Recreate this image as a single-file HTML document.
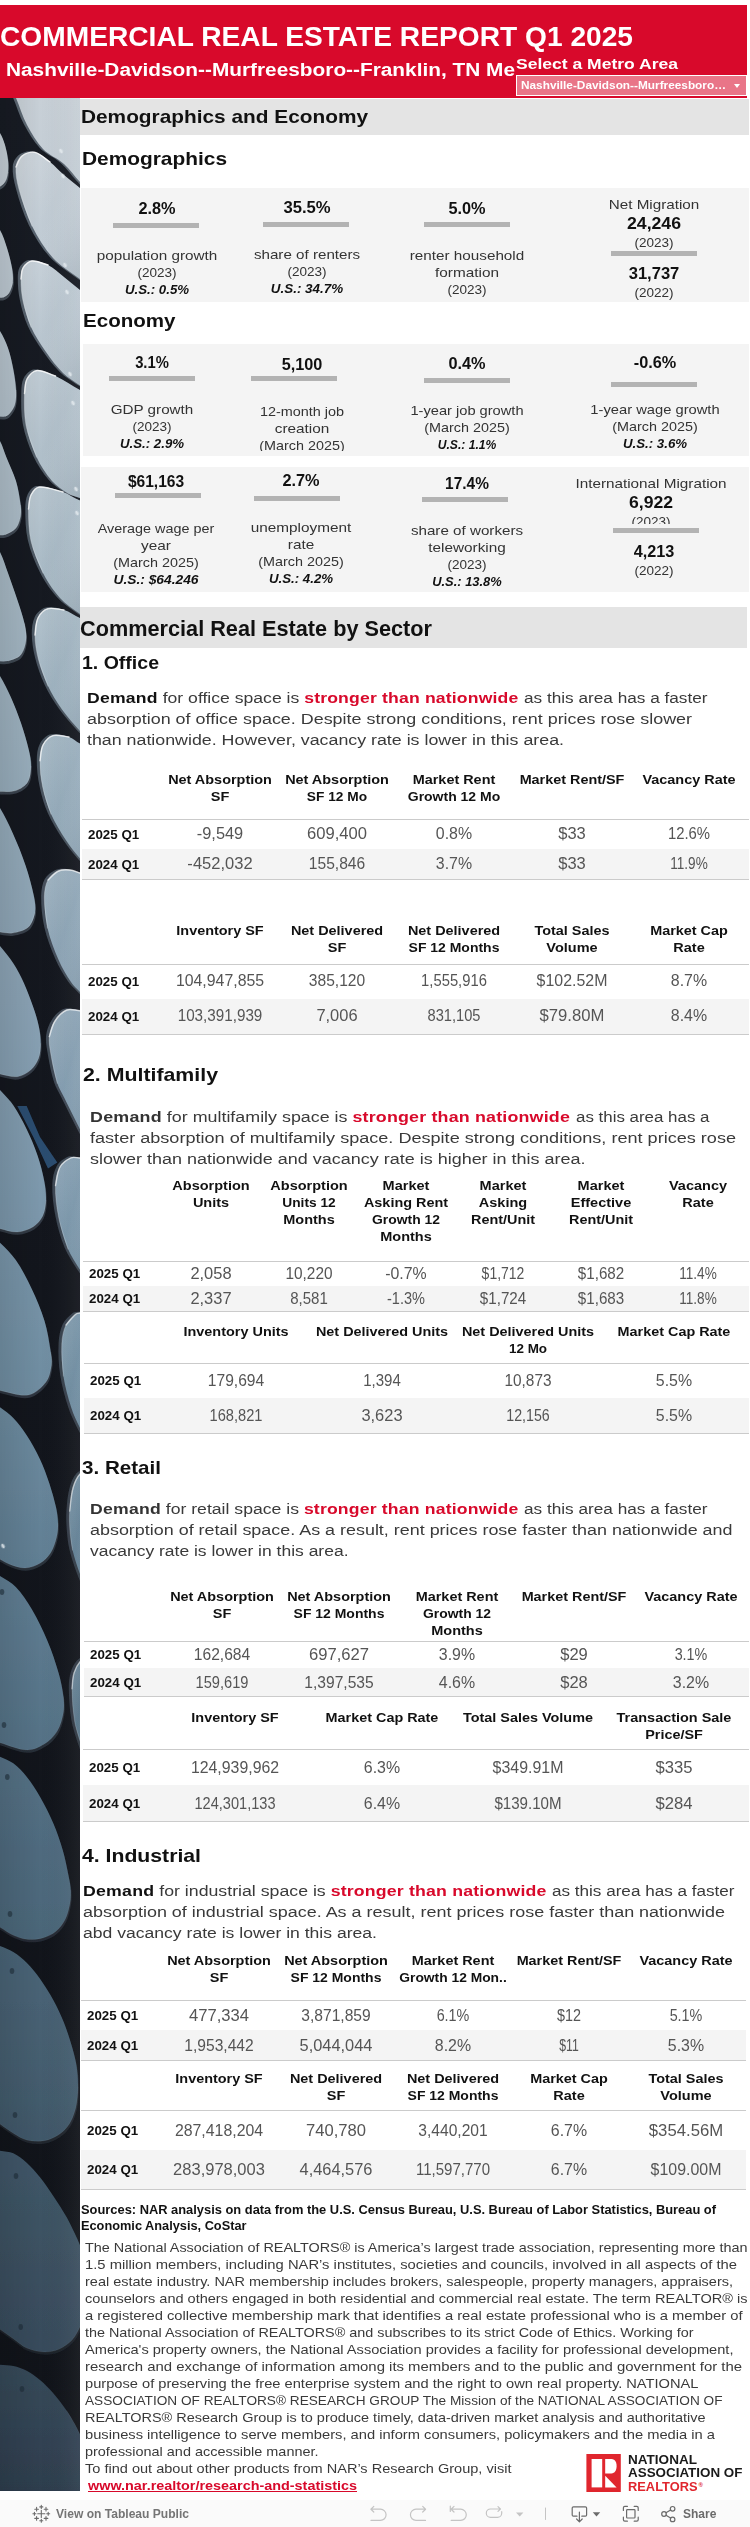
<!DOCTYPE html>
<html><head><meta charset="utf-8"><title>Commercial Real Estate Report</title>
<style>
html,body{margin:0;padding:0;width:750px;height:2527px;overflow:hidden;background:#fff;}
body{font-family:"Liberation Sans", sans-serif;}
.page{position:relative;width:750px;height:2527px;overflow:hidden;background:#fff;font-family:"Liberation Sans", sans-serif;}
b{font-weight:700;}
</style></head><body><div class="page">
<svg style="position:absolute;left:0;top:98px" width="80" height="2393" viewBox="0 98 80 2393">
<defs>
<linearGradient id="gf" gradientUnits="userSpaceOnUse" x1="0" y1="98" x2="0" y2="2491">
<stop offset="0.0000" stop-color="rgb(200, 208, 215)"/>
<stop offset="0.0635" stop-color="rgb(192, 203, 212)"/>
<stop offset="0.1262" stop-color="rgb(180, 194, 204)"/>
<stop offset="0.2098" stop-color="rgb(166, 184, 196)"/>
<stop offset="0.2934" stop-color="rgb(150, 172, 187)"/>
<stop offset="0.3769" stop-color="rgb(138, 162, 180)"/>
<stop offset="0.4605" stop-color="rgb(124, 152, 172)"/>
<stop offset="0.5441" stop-color="rgb(110, 140, 160)"/>
<stop offset="0.6277" stop-color="rgb(94, 124, 145)"/>
<stop offset="0.7112" stop-color="rgb(82, 110, 130)"/>
<stop offset="0.7948" stop-color="rgb(72, 98, 116)"/>
<stop offset="0.8784" stop-color="rgb(62, 84, 101)"/>
<stop offset="0.9411" stop-color="rgb(56, 75, 91)"/>
<stop offset="1.0000" stop-color="rgb(46, 62, 78)"/>
</linearGradient>
<linearGradient id="gb" gradientUnits="userSpaceOnUse" x1="0" y1="98" x2="0" y2="2491"><stop offset="0" stop-color="#181c24"/><stop offset="0.5" stop-color="#13161d"/><stop offset="1" stop-color="#11141a"/></linearGradient>
<linearGradient id="gr" gradientUnits="userSpaceOnUse" x1="0" y1="98" x2="0" y2="2491"><stop offset="0" stop-color="#5d6873"/><stop offset="0.5" stop-color="#3a4450"/><stop offset="1" stop-color="#1d232b"/></linearGradient>
<linearGradient id="gx" x1="0" y1="0" x2="1" y2="0"><stop offset="0" stop-color="#000" stop-opacity="0.10"/><stop offset="0.5" stop-color="#000" stop-opacity="0"/><stop offset="1" stop-color="#fff" stop-opacity="0.05"/></linearGradient>
<linearGradient id="gd" x1="0" y1="0" x2="1" y2="1"><stop offset="0" stop-color="#fff" stop-opacity="0.16"/><stop offset="0.45" stop-color="#fff" stop-opacity="0"/><stop offset="1" stop-color="#001020" stop-opacity="0.14"/></linearGradient>
<filter id="bl" x="-20%" y="-5%" width="140%" height="110%"><feGaussianBlur stdDeviation="0.6"/></filter>
</defs>
<rect x="0" y="98" width="80" height="2393" fill="url(#gb)"/>
<path d="M17.3,1106 L26.7,1106 L40,1137 L57.3,1162.5 L48,1168.5 L33.3,1137 Z" fill="#2f5379" opacity="0.9" filter="url(#bl)"/>
<g filter="url(#bl)">
<path d="M8.0,80.0C10.7,86.0 13.4,92.0 16.0,98.0C19.8,107.0 22.5,116.5 27.0,125.0C31.5,133.5 36.5,142.1 43.0,149.0C48.8,155.1 57.6,158.3 64.0,164.0C70.0,169.3 74.3,176.3 80.0,182.0C83.0,185.0 89.5,193.5 90.0,190.0C94.5,159.5 93.3,116.7 95.0,80.0Z" transform="translate(-3.2,-1)" fill="url(#gr)"/>
<path d="M90.0,196.0C86.7,193.3 83.3,190.7 80.0,188.0C74.7,183.7 69.2,179.5 64.0,175.0C59.2,170.8 55.0,165.9 50.0,162.0C45.3,158.4 40.3,153.5 35.0,152.4C31.0,151.5 25.3,153.5 22.0,156.0C19.0,158.3 16.4,163.0 16.0,167.0C15.4,174.0 17.1,181.9 19.0,189.0C22.4,201.6 26.3,214.4 32.0,226.0C37.6,237.4 44.6,248.7 53.0,258.0C60.6,266.3 70.8,272.3 80.0,279.0C83.1,281.3 86.7,283.0 90.0,285.0Z" transform="translate(-3.2,-1)" fill="url(#gr)"/>
<path d="M90.0,297.0C86.7,294.7 83.2,292.5 80.0,290.0C74.6,285.8 69.4,281.2 64.0,277.0C58.7,272.9 53.8,267.9 48.0,265.0C43.2,262.6 36.9,260.4 32.0,261.0C28.6,261.4 24.9,265.0 23.0,268.0C21.2,271.0 21.0,275.3 21.0,279.0C21.0,286.2 21.5,293.6 23.0,300.7C24.9,309.6 27.3,318.7 31.0,327.0C34.9,335.8 40.5,344.0 46.0,352.0C51.1,359.4 56.6,366.7 63.0,373.0C68.0,377.9 74.2,381.6 80.0,385.5C83.2,387.6 86.7,389.2 90.0,391.0Z" transform="translate(-3.2,-1)" fill="url(#gr)"/>
<path d="M90.0,394.0C86.7,392.7 83.2,391.7 80.0,390.0C71.7,385.7 64.0,379.9 55.5,376.0C49.7,373.4 42.7,369.9 37.0,370.5C33.2,370.9 29.0,375.4 27.0,379.0C24.8,383.1 24.6,388.6 24.5,393.5C24.3,404.0 24.1,414.8 26.0,425.0C28.1,435.9 31.8,446.9 36.5,457.0C40.5,465.6 45.9,473.9 52.0,481.0C56.4,486.1 62.3,490.0 68.0,493.5C71.6,495.7 76.0,496.6 80.0,498.0C83.3,499.1 86.7,500.0 90.0,501.0Z" transform="translate(-3.2,-1)" fill="url(#gr)"/>
<path d="M90.0,503.0C86.7,502.2 83.2,501.9 80.0,500.6C74.2,498.2 69.0,494.0 63.0,492.0C55.5,489.5 46.8,486.3 39.6,487.0C36.1,487.3 32.7,491.7 31.0,495.0C29.0,499.0 28.5,504.3 28.5,509.0C28.5,519.6 28.7,530.7 31.0,541.0C33.5,552.0 37.9,562.9 43.0,573.0C47.5,581.9 53.3,590.6 60.0,598.0C65.7,604.3 73.1,609.0 80.0,614.0C83.1,616.3 86.7,618.0 90.0,620.0Z" transform="translate(-3.2,-1)" fill="url(#gr)"/>
<path d="M90.0,621.0C86.7,620.0 83.2,619.4 80.0,618.0C74.5,615.7 69.6,611.6 64.0,610.0C59.0,608.5 52.7,607.3 48.0,608.7C44.0,609.9 39.9,614.1 38.0,618.0C35.6,622.9 34.9,629.3 35.0,635.0C35.1,643.0 36.4,651.2 38.4,659.0C40.7,668.2 44.0,677.4 48.0,686.0C51.8,694.2 56.7,702.1 62.0,709.5C67.4,717.1 73.8,724.0 80.0,731.0C83.1,734.5 86.7,737.7 90.0,741.0Z" transform="translate(-3.2,-1)" fill="url(#gr)"/>
<path d="M90.0,748.0C86.7,746.5 83.2,745.3 80.0,743.6C76.2,741.6 73.0,738.2 69.0,737.0C64.0,735.5 57.7,734.2 53.0,735.6C49.0,736.8 45.0,741.1 43.0,745.0C40.7,749.5 40.0,755.4 40.0,760.7C39.9,769.4 40.9,778.4 42.7,787.0C44.6,796.2 47.2,805.4 51.0,814.0C55.2,823.4 60.8,832.3 66.5,841.0C70.5,847.2 75.3,852.9 80.0,858.5C83.1,862.2 86.7,865.5 90.0,869.0Z" transform="translate(-3.2,-1)" fill="url(#gr)"/>
<path d="M90.0,876.0C86.7,875.0 83.3,874.0 80.0,873.0C76.7,872.0 73.4,870.3 70.0,870.0C66.3,869.7 61.9,869.5 58.6,871.0C54.6,872.8 50.1,876.2 48.0,880.0C45.4,884.7 44.5,891.1 44.4,896.7C44.3,907.1 45.2,917.8 47.5,928.0C50.0,938.9 54.1,949.7 58.6,960.0C61.9,967.7 66.3,975.0 71.0,982.0C73.5,985.7 76.9,988.7 80.0,992.0C83.2,995.4 86.7,998.7 90.0,1002.0Z" transform="translate(-3.2,-1)" fill="url(#gr)"/>
<path d="M90.0,1013.0C86.7,1012.2 83.4,1011.1 80.0,1010.7C75.6,1010.1 70.5,1008.4 66.7,1010.0C62.1,1011.9 57.8,1016.6 55.0,1021.0C52.0,1025.5 49.9,1031.3 49.3,1036.7C48.6,1043.2 50.2,1050.1 51.3,1056.7C52.8,1065.6 54.6,1074.7 57.3,1083.3C58.8,1088.2 61.7,1092.7 64.0,1097.3C67.5,1104.5 71.1,1111.6 74.7,1118.7C76.5,1122.2 78.2,1125.8 80.0,1129.3C83.3,1135.6 86.7,1141.8 90.0,1148.0Z" transform="translate(-3.2,-1)" fill="url(#gr)"/>
<path d="M90.0,1159.0C86.7,1158.7 83.3,1158.2 80.0,1158.0C77.0,1157.8 73.6,1156.6 71.0,1157.8C66.9,1159.6 62.2,1163.0 60.0,1167.0C57.1,1172.3 55.7,1179.2 55.5,1185.5C55.2,1195.9 56.6,1206.7 58.6,1217.0C60.7,1227.9 63.8,1238.8 68.0,1249.0C71.0,1256.3 75.8,1263.0 80.0,1269.7C83.1,1274.6 86.7,1279.2 90.0,1284.0Z" transform="translate(-3.2,-1)" fill="url(#gr)"/>
<path d="M90.0,1312.0C86.7,1312.3 83.3,1312.5 80.0,1313.0C78.6,1313.2 77.0,1313.1 76.0,1314.0C72.3,1317.1 68.1,1320.7 66.0,1325.0C63.3,1330.7 62.1,1337.6 61.8,1344.0C61.3,1354.6 61.8,1365.5 63.4,1376.0C65.0,1386.8 68.0,1397.4 71.3,1407.8C73.5,1414.8 76.8,1421.4 80.0,1428.0C83.0,1434.2 86.7,1440.0 90.0,1446.0Z" transform="translate(-3.2,-1)" fill="url(#gr)"/>
<path d="M90.0,1470.0C86.7,1471.3 82.3,1471.6 80.0,1474.0C76.6,1477.6 74.4,1483.0 73.0,1488.0C70.9,1495.4 70.2,1503.3 69.7,1511.0C69.2,1517.6 69.5,1524.4 70.0,1531.0C70.5,1537.4 71.1,1543.8 72.5,1550.0C74.4,1558.1 77.1,1566.1 80.0,1574.0C83.0,1582.1 86.7,1590.0 90.0,1598.0Z" transform="translate(-3.2,-1)" fill="url(#gr)"/>
<path d="M90.0,1655.0C86.7,1657.2 82.6,1658.8 80.0,1661.7C77.3,1664.8 75.2,1669.0 74.0,1673.0C72.5,1678.0 71.9,1683.4 72.0,1688.7C72.1,1699.3 72.9,1710.0 74.5,1720.5C75.6,1727.5 77.9,1734.3 80.0,1741.0C83.1,1750.8 86.7,1760.3 90.0,1770.0Z" transform="translate(-3.2,-1)" fill="url(#gr)"/>
<path d="M-8.0,124.0C-5.3,127.0 -2.1,129.6 0.0,133.0C2.2,136.6 3.8,140.9 5.0,145.0C6.4,149.9 7.4,155.0 8.0,160.0C8.4,164.0 8.5,168.1 8.0,172.0C7.6,175.1 7.0,178.4 5.5,181.0C4.3,183.2 2.2,185.4 0.0,186.5C-1.7,187.4 -4.0,186.8 -6.0,187.0Z" transform="translate(0.8,2.8)" fill="url(#gr)" opacity="0.75"/>
<path d="M-8.0,222.0C-5.3,224.7 -1.8,226.8 0.0,230.0C3.2,235.5 5.1,241.9 7.0,248.0C9.1,254.5 10.8,261.3 12.0,268.0C12.8,272.6 13.3,277.4 12.8,282.0C12.3,285.8 11.0,289.9 9.0,293.0C7.7,295.0 5.3,296.9 3.0,297.5C0.3,298.2 -3.0,297.2 -6.0,297.0Z" transform="translate(0.8,2.8)" fill="url(#gr)" opacity="0.75"/>
<path d="M-8.0,322.0C-5.3,325.0 -2.1,327.6 0.0,331.0C3.3,336.3 5.9,342.1 8.0,348.0C10.3,354.5 11.7,361.3 13.0,368.0C14.4,375.3 15.6,382.6 16.0,390.0C16.3,394.6 16.2,399.6 15.0,404.0C14.2,407.2 12.1,410.4 10.0,413.0C8.8,414.6 6.9,416.1 5.0,416.5C1.6,417.1 -2.3,416.2 -6.0,416.0Z" transform="translate(0.8,2.8)" fill="url(#gr)" opacity="0.75"/>
<path d="M-8.0,431.0C-5.3,434.3 -2.0,437.3 0.0,441.0C2.7,446.0 4.2,451.7 6.3,457.0C9.5,465.0 13.5,472.8 16.0,481.0C18.3,488.8 19.5,497.0 20.6,505.0C21.1,508.6 21.3,512.5 20.6,516.0C19.8,520.1 18.6,524.9 16.0,528.0C13.4,531.1 9.0,533.5 5.0,534.8C1.6,535.9 -2.3,534.9 -6.0,535.0Z" transform="translate(0.8,2.8)" fill="url(#gr)" opacity="0.75"/>
<path d="M-8.0,541.0C-5.3,544.7 -2.0,548.0 0.0,552.0C3.3,558.6 5.4,566.0 8.0,573.0C11.2,582.0 14.4,590.9 17.4,600.0C19.9,607.8 22.8,615.6 24.5,623.6C25.6,628.9 26.7,634.7 26.0,640.0C25.4,645.1 23.8,651.3 20.6,655.0C17.8,658.3 12.4,660.0 8.0,661.0C3.6,662.0 -1.3,661.0 -6.0,661.0Z" transform="translate(0.8,2.8)" fill="url(#gr)" opacity="0.75"/>
<path d="M-8.0,666.0C-5.3,669.3 -2.2,672.4 0.0,676.0C4.0,682.6 7.5,689.6 10.7,696.7C14.5,705.3 18.0,714.1 21.0,723.0C24.0,731.9 26.7,740.9 28.8,750.0C30.0,755.2 31.2,760.7 31.0,766.0C30.8,771.4 30.4,777.7 27.7,782.0C25.4,785.8 20.4,789.0 16.0,790.5C11.1,792.2 5.3,791.7 0.0,791.6C-2.7,791.5 -5.3,790.5 -8.0,790.0Z" transform="translate(0.8,2.8)" fill="url(#gr)" opacity="0.75"/>
<path d="M-8.0,799.0C-5.3,802.0 -2.1,804.6 0.0,808.0C4.8,815.9 8.9,824.5 12.7,833.0C17.4,843.5 21.8,854.1 25.4,865.0C28.9,875.4 31.8,886.0 34.0,896.7C35.0,901.8 35.9,907.5 35.0,912.5C34.1,917.6 32.1,923.7 28.5,927.0C24.7,930.5 18.1,932.0 12.7,933.0C8.6,933.7 4.2,932.6 0.0,932.0C-2.7,931.6 -5.3,930.7 -8.0,930.0Z" transform="translate(0.8,2.8)" fill="url(#gr)" opacity="0.75"/>
<path d="M-8.0,938.0C-5.3,940.7 -2.4,943.1 0.0,946.0C4.7,951.6 9.4,957.2 13.3,963.3C17.4,969.6 20.9,976.4 24.0,983.3C27.5,991.1 30.5,999.2 33.3,1007.3C35.4,1013.4 37.4,1019.7 38.7,1026.0C39.9,1031.7 40.7,1037.5 40.7,1043.3C40.7,1048.2 40.4,1053.5 38.7,1058.0C37.1,1062.4 34.2,1066.9 30.7,1070.0C27.1,1073.2 22.0,1076.1 17.3,1076.7C11.8,1077.4 5.7,1075.3 0.0,1074.0C-2.8,1073.4 -5.3,1072.0 -8.0,1071.0Z" transform="translate(0.8,2.8)" fill="url(#gr)" opacity="0.75"/>
<path d="M-8.0,1083.0C-5.3,1085.3 -2.4,1087.4 0.0,1090.0C4.7,1094.9 9.5,1099.7 13.3,1105.3C18.4,1112.8 22.7,1121.1 26.7,1129.3C30.7,1137.5 34.3,1146.0 37.3,1154.7C40.1,1162.9 42.4,1171.5 44.0,1180.0C45.3,1186.6 46.2,1193.4 46.0,1200.0C45.8,1205.4 45.0,1211.2 42.7,1216.0C40.7,1220.1 37.2,1224.3 33.3,1226.7C28.7,1229.6 22.7,1231.7 17.3,1232.0C11.6,1232.3 5.7,1230.1 0.0,1228.7C-2.7,1228.1 -5.3,1226.9 -8.0,1226.0Z" transform="translate(0.8,2.8)" fill="url(#gr)" opacity="0.75"/>
<path d="M-8.0,1237.0C-5.3,1238.9 -2.3,1240.4 0.0,1242.7C5.6,1248.1 11.4,1253.6 15.8,1260.0C22.0,1268.9 27.0,1278.8 31.7,1288.7C36.6,1299.0 41.1,1309.6 44.4,1320.5C47.5,1330.7 49.0,1341.4 50.7,1352.0C51.4,1356.3 52.2,1360.8 51.5,1365.0C50.6,1370.8 49.5,1377.5 46.0,1382.0C41.8,1387.5 35.1,1393.8 28.5,1395.0C19.8,1396.6 9.3,1392.5 0.0,1390.5C-2.8,1389.9 -5.3,1388.2 -8.0,1387.0Z" transform="translate(0.8,2.8)" fill="url(#gr)" opacity="0.75"/>
<path d="M-8.0,1402.0C-5.3,1403.8 -2.6,1405.4 0.0,1407.3C4.5,1410.7 9.4,1413.9 13.3,1418.0C18.3,1423.2 22.8,1429.2 26.7,1435.3C31.7,1443.0 36.1,1451.0 40.0,1459.3C43.6,1467.0 46.6,1475.2 49.3,1483.3C51.9,1491.2 54.2,1499.2 56.0,1507.3C57.1,1512.5 57.9,1518.0 58.0,1523.3C58.1,1527.8 57.8,1532.4 56.7,1536.7C55.3,1542.2 53.7,1548.0 50.7,1552.7C48.1,1556.9 44.2,1560.8 40.0,1563.3C35.7,1565.9 30.3,1567.8 25.3,1568.0C20.5,1568.2 15.4,1566.3 10.7,1564.7C6.9,1563.4 3.5,1561.1 0.0,1559.3C-2.7,1557.9 -5.3,1556.4 -8.0,1555.0Z" transform="translate(0.8,2.8)" fill="url(#gr)" opacity="0.75"/>
<path d="M-8.0,1572.0C-5.3,1573.3 -2.5,1574.4 0.0,1576.0C5.4,1579.4 11.4,1582.4 15.8,1587.0C22.0,1593.4 27.1,1601.2 31.7,1609.0C37.7,1619.2 42.9,1630.1 47.5,1641.0C51.9,1651.4 55.5,1662.2 58.6,1673.0C60.8,1680.7 62.4,1688.7 63.4,1696.7C64.0,1701.9 64.3,1707.4 63.4,1712.5C62.2,1719.0 60.4,1726.0 57.0,1731.6C54.0,1736.5 49.3,1741.0 44.4,1744.0C39.3,1747.1 32.9,1750.2 27.0,1750.0C18.1,1749.7 8.9,1745.5 0.0,1742.7C-2.8,1741.8 -5.3,1740.2 -8.0,1739.0Z" transform="translate(0.8,2.8)" fill="url(#gr)" opacity="0.75"/>
<path d="M-8.0,1753.0C-5.3,1754.2 -2.6,1755.4 0.0,1756.7C4.5,1758.9 9.4,1760.4 13.3,1763.3C18.3,1767.0 22.8,1771.8 26.7,1776.7C31.7,1782.9 36.0,1789.8 40.0,1796.7C44.9,1805.3 49.4,1814.2 53.3,1823.3C57.0,1832.0 60.1,1840.9 62.7,1850.0C65.2,1858.7 66.9,1867.8 68.7,1876.7C69.6,1881.1 70.5,1885.5 70.7,1890.0C70.9,1894.4 70.8,1899.0 70.0,1903.3C69.0,1908.7 67.7,1914.4 65.3,1919.3C63.1,1923.7 59.8,1928.2 56.0,1931.3C52.3,1934.4 47.4,1936.7 42.7,1938.0C37.6,1939.4 31.9,1939.8 26.7,1939.3C22.1,1938.9 17.5,1937.2 13.3,1935.3C8.6,1933.2 4.4,1930.0 0.0,1927.3C-2.7,1925.6 -5.3,1923.8 -8.0,1922.0Z" transform="translate(0.8,2.8)" fill="url(#gr)" opacity="0.75"/>
<path d="M-8.0,1943.0C-5.3,1944.0 -2.6,1944.9 0.0,1946.0C4.5,1947.9 9.2,1949.4 13.3,1952.0C18.1,1955.0 22.7,1958.7 26.7,1962.7C31.6,1967.6 36.0,1973.1 40.0,1978.7C44.8,1985.5 49.3,1992.7 53.3,2000.0C57.3,2007.3 60.9,2014.9 64.0,2022.7C67.1,2030.5 69.7,2038.6 72.0,2046.7C73.9,2053.3 75.7,2060.0 76.7,2066.7C77.7,2073.3 78.1,2080.0 78.0,2086.7C77.9,2093.4 77.5,2100.2 76.0,2106.7C74.6,2112.7 72.5,2118.8 69.3,2124.0C66.7,2128.2 62.8,2132.0 58.7,2134.7C54.4,2137.6 49.1,2139.9 44.0,2140.7C38.4,2141.6 32.2,2141.3 26.7,2140.0C22.0,2138.9 17.6,2135.9 13.3,2133.3C8.7,2130.5 4.4,2127.2 0.0,2124.0C-2.7,2122.1 -5.3,2120.0 -8.0,2118.0Z" transform="translate(0.8,2.8)" fill="url(#gr)" opacity="0.75"/>
<path d="M-8.0,2149.0C-5.3,2149.6 -2.7,2150.2 0.0,2150.7C4.4,2151.6 9.3,2151.5 13.3,2153.3C18.2,2155.5 22.7,2159.1 26.7,2162.7C31.6,2167.1 35.9,2172.2 40.0,2177.3C44.8,2183.3 49.1,2189.6 53.3,2196.0C58.0,2203.0 62.5,2210.0 66.7,2217.3C69.7,2222.5 72.1,2227.9 74.7,2233.3C76.6,2237.2 78.5,2241.2 80.0,2245.3C82.3,2251.8 84.8,2258.3 86.0,2265.0C87.5,2273.2 88.0,2281.7 88.0,2290.0C88.0,2296.7 87.4,2303.5 86.0,2310.0C84.7,2315.7 82.5,2321.4 80.0,2326.7C77.8,2331.4 75.5,2336.3 72.0,2340.0C68.4,2343.9 63.6,2347.2 58.7,2349.3C54.2,2351.2 48.9,2352.2 44.0,2352.0C38.2,2351.8 32.0,2350.3 26.7,2348.0C21.8,2345.9 17.8,2341.8 13.3,2338.7C8.9,2335.6 4.4,2332.5 0.0,2329.3C-2.7,2327.3 -5.3,2325.1 -8.0,2323.0Z" transform="translate(0.8,2.8)" fill="url(#gr)" opacity="0.75"/>
<path d="M-8.0,2364.0C-5.3,2364.2 -2.7,2364.4 0.0,2364.7C4.4,2365.1 9.0,2365.0 13.3,2366.0C17.9,2367.0 22.5,2368.5 26.7,2370.7C31.4,2373.2 35.9,2376.5 40.0,2380.0C44.8,2384.0 49.2,2388.6 53.3,2393.3C58.1,2398.8 62.5,2404.7 66.7,2410.7C69.7,2414.9 72.2,2419.5 74.7,2424.0C76.6,2427.5 78.4,2431.1 80.0,2434.7C83.5,2442.4 88.4,2449.8 90.0,2458.0C93.4,2474.9 106.0,2504.2 95.0,2510.0C73.3,2521.5 26.3,2510.0 -8.0,2510.0Z" transform="translate(0.8,2.8)" fill="url(#gr)" opacity="0.75"/>
<path d="M8.0,80.0C10.7,86.0 13.4,92.0 16.0,98.0C19.8,107.0 22.5,116.5 27.0,125.0C31.5,133.5 36.5,142.1 43.0,149.0C48.8,155.1 57.6,158.3 64.0,164.0C70.0,169.3 74.3,176.3 80.0,182.0C83.0,185.0 89.5,193.5 90.0,190.0C94.5,159.5 93.3,116.7 95.0,80.0Z" fill="url(#gf)"/>
<path d="M90.0,196.0C86.7,193.3 83.3,190.7 80.0,188.0C74.7,183.7 69.2,179.5 64.0,175.0C59.2,170.8 55.0,165.9 50.0,162.0C45.3,158.4 40.3,153.5 35.0,152.4C31.0,151.5 25.3,153.5 22.0,156.0C19.0,158.3 16.4,163.0 16.0,167.0C15.4,174.0 17.1,181.9 19.0,189.0C22.4,201.6 26.3,214.4 32.0,226.0C37.6,237.4 44.6,248.7 53.0,258.0C60.6,266.3 70.8,272.3 80.0,279.0C83.1,281.3 86.7,283.0 90.0,285.0Z" fill="url(#gf)"/>
<path d="M90.0,297.0C86.7,294.7 83.2,292.5 80.0,290.0C74.6,285.8 69.4,281.2 64.0,277.0C58.7,272.9 53.8,267.9 48.0,265.0C43.2,262.6 36.9,260.4 32.0,261.0C28.6,261.4 24.9,265.0 23.0,268.0C21.2,271.0 21.0,275.3 21.0,279.0C21.0,286.2 21.5,293.6 23.0,300.7C24.9,309.6 27.3,318.7 31.0,327.0C34.9,335.8 40.5,344.0 46.0,352.0C51.1,359.4 56.6,366.7 63.0,373.0C68.0,377.9 74.2,381.6 80.0,385.5C83.2,387.6 86.7,389.2 90.0,391.0Z" fill="url(#gf)"/>
<path d="M90.0,394.0C86.7,392.7 83.2,391.7 80.0,390.0C71.7,385.7 64.0,379.9 55.5,376.0C49.7,373.4 42.7,369.9 37.0,370.5C33.2,370.9 29.0,375.4 27.0,379.0C24.8,383.1 24.6,388.6 24.5,393.5C24.3,404.0 24.1,414.8 26.0,425.0C28.1,435.9 31.8,446.9 36.5,457.0C40.5,465.6 45.9,473.9 52.0,481.0C56.4,486.1 62.3,490.0 68.0,493.5C71.6,495.7 76.0,496.6 80.0,498.0C83.3,499.1 86.7,500.0 90.0,501.0Z" fill="url(#gf)"/>
<path d="M90.0,503.0C86.7,502.2 83.2,501.9 80.0,500.6C74.2,498.2 69.0,494.0 63.0,492.0C55.5,489.5 46.8,486.3 39.6,487.0C36.1,487.3 32.7,491.7 31.0,495.0C29.0,499.0 28.5,504.3 28.5,509.0C28.5,519.6 28.7,530.7 31.0,541.0C33.5,552.0 37.9,562.9 43.0,573.0C47.5,581.9 53.3,590.6 60.0,598.0C65.7,604.3 73.1,609.0 80.0,614.0C83.1,616.3 86.7,618.0 90.0,620.0Z" fill="url(#gf)"/>
<path d="M90.0,621.0C86.7,620.0 83.2,619.4 80.0,618.0C74.5,615.7 69.6,611.6 64.0,610.0C59.0,608.5 52.7,607.3 48.0,608.7C44.0,609.9 39.9,614.1 38.0,618.0C35.6,622.9 34.9,629.3 35.0,635.0C35.1,643.0 36.4,651.2 38.4,659.0C40.7,668.2 44.0,677.4 48.0,686.0C51.8,694.2 56.7,702.1 62.0,709.5C67.4,717.1 73.8,724.0 80.0,731.0C83.1,734.5 86.7,737.7 90.0,741.0Z" fill="url(#gf)"/>
<path d="M90.0,748.0C86.7,746.5 83.2,745.3 80.0,743.6C76.2,741.6 73.0,738.2 69.0,737.0C64.0,735.5 57.7,734.2 53.0,735.6C49.0,736.8 45.0,741.1 43.0,745.0C40.7,749.5 40.0,755.4 40.0,760.7C39.9,769.4 40.9,778.4 42.7,787.0C44.6,796.2 47.2,805.4 51.0,814.0C55.2,823.4 60.8,832.3 66.5,841.0C70.5,847.2 75.3,852.9 80.0,858.5C83.1,862.2 86.7,865.5 90.0,869.0Z" fill="url(#gf)"/>
<path d="M90.0,876.0C86.7,875.0 83.3,874.0 80.0,873.0C76.7,872.0 73.4,870.3 70.0,870.0C66.3,869.7 61.9,869.5 58.6,871.0C54.6,872.8 50.1,876.2 48.0,880.0C45.4,884.7 44.5,891.1 44.4,896.7C44.3,907.1 45.2,917.8 47.5,928.0C50.0,938.9 54.1,949.7 58.6,960.0C61.9,967.7 66.3,975.0 71.0,982.0C73.5,985.7 76.9,988.7 80.0,992.0C83.2,995.4 86.7,998.7 90.0,1002.0Z" fill="url(#gf)"/>
<path d="M90.0,1013.0C86.7,1012.2 83.4,1011.1 80.0,1010.7C75.6,1010.1 70.5,1008.4 66.7,1010.0C62.1,1011.9 57.8,1016.6 55.0,1021.0C52.0,1025.5 49.9,1031.3 49.3,1036.7C48.6,1043.2 50.2,1050.1 51.3,1056.7C52.8,1065.6 54.6,1074.7 57.3,1083.3C58.8,1088.2 61.7,1092.7 64.0,1097.3C67.5,1104.5 71.1,1111.6 74.7,1118.7C76.5,1122.2 78.2,1125.8 80.0,1129.3C83.3,1135.6 86.7,1141.8 90.0,1148.0Z" fill="url(#gf)"/>
<path d="M90.0,1159.0C86.7,1158.7 83.3,1158.2 80.0,1158.0C77.0,1157.8 73.6,1156.6 71.0,1157.8C66.9,1159.6 62.2,1163.0 60.0,1167.0C57.1,1172.3 55.7,1179.2 55.5,1185.5C55.2,1195.9 56.6,1206.7 58.6,1217.0C60.7,1227.9 63.8,1238.8 68.0,1249.0C71.0,1256.3 75.8,1263.0 80.0,1269.7C83.1,1274.6 86.7,1279.2 90.0,1284.0Z" fill="url(#gf)"/>
<path d="M90.0,1312.0C86.7,1312.3 83.3,1312.5 80.0,1313.0C78.6,1313.2 77.0,1313.1 76.0,1314.0C72.3,1317.1 68.1,1320.7 66.0,1325.0C63.3,1330.7 62.1,1337.6 61.8,1344.0C61.3,1354.6 61.8,1365.5 63.4,1376.0C65.0,1386.8 68.0,1397.4 71.3,1407.8C73.5,1414.8 76.8,1421.4 80.0,1428.0C83.0,1434.2 86.7,1440.0 90.0,1446.0Z" fill="url(#gf)"/>
<path d="M90.0,1470.0C86.7,1471.3 82.3,1471.6 80.0,1474.0C76.6,1477.6 74.4,1483.0 73.0,1488.0C70.9,1495.4 70.2,1503.3 69.7,1511.0C69.2,1517.6 69.5,1524.4 70.0,1531.0C70.5,1537.4 71.1,1543.8 72.5,1550.0C74.4,1558.1 77.1,1566.1 80.0,1574.0C83.0,1582.1 86.7,1590.0 90.0,1598.0Z" fill="url(#gf)"/>
<path d="M90.0,1655.0C86.7,1657.2 82.6,1658.8 80.0,1661.7C77.3,1664.8 75.2,1669.0 74.0,1673.0C72.5,1678.0 71.9,1683.4 72.0,1688.7C72.1,1699.3 72.9,1710.0 74.5,1720.5C75.6,1727.5 77.9,1734.3 80.0,1741.0C83.1,1750.8 86.7,1760.3 90.0,1770.0Z" fill="url(#gf)"/>
<path d="M-8.0,124.0C-5.3,127.0 -2.1,129.6 0.0,133.0C2.2,136.6 3.8,140.9 5.0,145.0C6.4,149.9 7.4,155.0 8.0,160.0C8.4,164.0 8.5,168.1 8.0,172.0C7.6,175.1 7.0,178.4 5.5,181.0C4.3,183.2 2.2,185.4 0.0,186.5C-1.7,187.4 -4.0,186.8 -6.0,187.0Z" fill="url(#gf)"/>
<path d="M-8.0,222.0C-5.3,224.7 -1.8,226.8 0.0,230.0C3.2,235.5 5.1,241.9 7.0,248.0C9.1,254.5 10.8,261.3 12.0,268.0C12.8,272.6 13.3,277.4 12.8,282.0C12.3,285.8 11.0,289.9 9.0,293.0C7.7,295.0 5.3,296.9 3.0,297.5C0.3,298.2 -3.0,297.2 -6.0,297.0Z" fill="url(#gf)"/>
<path d="M-8.0,322.0C-5.3,325.0 -2.1,327.6 0.0,331.0C3.3,336.3 5.9,342.1 8.0,348.0C10.3,354.5 11.7,361.3 13.0,368.0C14.4,375.3 15.6,382.6 16.0,390.0C16.3,394.6 16.2,399.6 15.0,404.0C14.2,407.2 12.1,410.4 10.0,413.0C8.8,414.6 6.9,416.1 5.0,416.5C1.6,417.1 -2.3,416.2 -6.0,416.0Z" fill="url(#gf)"/>
<path d="M-8.0,431.0C-5.3,434.3 -2.0,437.3 0.0,441.0C2.7,446.0 4.2,451.7 6.3,457.0C9.5,465.0 13.5,472.8 16.0,481.0C18.3,488.8 19.5,497.0 20.6,505.0C21.1,508.6 21.3,512.5 20.6,516.0C19.8,520.1 18.6,524.9 16.0,528.0C13.4,531.1 9.0,533.5 5.0,534.8C1.6,535.9 -2.3,534.9 -6.0,535.0Z" fill="url(#gf)"/>
<path d="M-8.0,541.0C-5.3,544.7 -2.0,548.0 0.0,552.0C3.3,558.6 5.4,566.0 8.0,573.0C11.2,582.0 14.4,590.9 17.4,600.0C19.9,607.8 22.8,615.6 24.5,623.6C25.6,628.9 26.7,634.7 26.0,640.0C25.4,645.1 23.8,651.3 20.6,655.0C17.8,658.3 12.4,660.0 8.0,661.0C3.6,662.0 -1.3,661.0 -6.0,661.0Z" fill="url(#gf)"/>
<path d="M-8.0,666.0C-5.3,669.3 -2.2,672.4 0.0,676.0C4.0,682.6 7.5,689.6 10.7,696.7C14.5,705.3 18.0,714.1 21.0,723.0C24.0,731.9 26.7,740.9 28.8,750.0C30.0,755.2 31.2,760.7 31.0,766.0C30.8,771.4 30.4,777.7 27.7,782.0C25.4,785.8 20.4,789.0 16.0,790.5C11.1,792.2 5.3,791.7 0.0,791.6C-2.7,791.5 -5.3,790.5 -8.0,790.0Z" fill="url(#gf)"/>
<path d="M-8.0,799.0C-5.3,802.0 -2.1,804.6 0.0,808.0C4.8,815.9 8.9,824.5 12.7,833.0C17.4,843.5 21.8,854.1 25.4,865.0C28.9,875.4 31.8,886.0 34.0,896.7C35.0,901.8 35.9,907.5 35.0,912.5C34.1,917.6 32.1,923.7 28.5,927.0C24.7,930.5 18.1,932.0 12.7,933.0C8.6,933.7 4.2,932.6 0.0,932.0C-2.7,931.6 -5.3,930.7 -8.0,930.0Z" fill="url(#gf)"/>
<path d="M-8.0,938.0C-5.3,940.7 -2.4,943.1 0.0,946.0C4.7,951.6 9.4,957.2 13.3,963.3C17.4,969.6 20.9,976.4 24.0,983.3C27.5,991.1 30.5,999.2 33.3,1007.3C35.4,1013.4 37.4,1019.7 38.7,1026.0C39.9,1031.7 40.7,1037.5 40.7,1043.3C40.7,1048.2 40.4,1053.5 38.7,1058.0C37.1,1062.4 34.2,1066.9 30.7,1070.0C27.1,1073.2 22.0,1076.1 17.3,1076.7C11.8,1077.4 5.7,1075.3 0.0,1074.0C-2.8,1073.4 -5.3,1072.0 -8.0,1071.0Z" fill="url(#gf)"/>
<path d="M-8.0,1083.0C-5.3,1085.3 -2.4,1087.4 0.0,1090.0C4.7,1094.9 9.5,1099.7 13.3,1105.3C18.4,1112.8 22.7,1121.1 26.7,1129.3C30.7,1137.5 34.3,1146.0 37.3,1154.7C40.1,1162.9 42.4,1171.5 44.0,1180.0C45.3,1186.6 46.2,1193.4 46.0,1200.0C45.8,1205.4 45.0,1211.2 42.7,1216.0C40.7,1220.1 37.2,1224.3 33.3,1226.7C28.7,1229.6 22.7,1231.7 17.3,1232.0C11.6,1232.3 5.7,1230.1 0.0,1228.7C-2.7,1228.1 -5.3,1226.9 -8.0,1226.0Z" fill="url(#gf)"/>
<path d="M-8.0,1237.0C-5.3,1238.9 -2.3,1240.4 0.0,1242.7C5.6,1248.1 11.4,1253.6 15.8,1260.0C22.0,1268.9 27.0,1278.8 31.7,1288.7C36.6,1299.0 41.1,1309.6 44.4,1320.5C47.5,1330.7 49.0,1341.4 50.7,1352.0C51.4,1356.3 52.2,1360.8 51.5,1365.0C50.6,1370.8 49.5,1377.5 46.0,1382.0C41.8,1387.5 35.1,1393.8 28.5,1395.0C19.8,1396.6 9.3,1392.5 0.0,1390.5C-2.8,1389.9 -5.3,1388.2 -8.0,1387.0Z" fill="url(#gf)"/>
<path d="M-8.0,1402.0C-5.3,1403.8 -2.6,1405.4 0.0,1407.3C4.5,1410.7 9.4,1413.9 13.3,1418.0C18.3,1423.2 22.8,1429.2 26.7,1435.3C31.7,1443.0 36.1,1451.0 40.0,1459.3C43.6,1467.0 46.6,1475.2 49.3,1483.3C51.9,1491.2 54.2,1499.2 56.0,1507.3C57.1,1512.5 57.9,1518.0 58.0,1523.3C58.1,1527.8 57.8,1532.4 56.7,1536.7C55.3,1542.2 53.7,1548.0 50.7,1552.7C48.1,1556.9 44.2,1560.8 40.0,1563.3C35.7,1565.9 30.3,1567.8 25.3,1568.0C20.5,1568.2 15.4,1566.3 10.7,1564.7C6.9,1563.4 3.5,1561.1 0.0,1559.3C-2.7,1557.9 -5.3,1556.4 -8.0,1555.0Z" fill="url(#gf)"/>
<path d="M-8.0,1572.0C-5.3,1573.3 -2.5,1574.4 0.0,1576.0C5.4,1579.4 11.4,1582.4 15.8,1587.0C22.0,1593.4 27.1,1601.2 31.7,1609.0C37.7,1619.2 42.9,1630.1 47.5,1641.0C51.9,1651.4 55.5,1662.2 58.6,1673.0C60.8,1680.7 62.4,1688.7 63.4,1696.7C64.0,1701.9 64.3,1707.4 63.4,1712.5C62.2,1719.0 60.4,1726.0 57.0,1731.6C54.0,1736.5 49.3,1741.0 44.4,1744.0C39.3,1747.1 32.9,1750.2 27.0,1750.0C18.1,1749.7 8.9,1745.5 0.0,1742.7C-2.8,1741.8 -5.3,1740.2 -8.0,1739.0Z" fill="url(#gf)"/>
<path d="M-8.0,1753.0C-5.3,1754.2 -2.6,1755.4 0.0,1756.7C4.5,1758.9 9.4,1760.4 13.3,1763.3C18.3,1767.0 22.8,1771.8 26.7,1776.7C31.7,1782.9 36.0,1789.8 40.0,1796.7C44.9,1805.3 49.4,1814.2 53.3,1823.3C57.0,1832.0 60.1,1840.9 62.7,1850.0C65.2,1858.7 66.9,1867.8 68.7,1876.7C69.6,1881.1 70.5,1885.5 70.7,1890.0C70.9,1894.4 70.8,1899.0 70.0,1903.3C69.0,1908.7 67.7,1914.4 65.3,1919.3C63.1,1923.7 59.8,1928.2 56.0,1931.3C52.3,1934.4 47.4,1936.7 42.7,1938.0C37.6,1939.4 31.9,1939.8 26.7,1939.3C22.1,1938.9 17.5,1937.2 13.3,1935.3C8.6,1933.2 4.4,1930.0 0.0,1927.3C-2.7,1925.6 -5.3,1923.8 -8.0,1922.0Z" fill="url(#gf)"/>
<path d="M-8.0,1943.0C-5.3,1944.0 -2.6,1944.9 0.0,1946.0C4.5,1947.9 9.2,1949.4 13.3,1952.0C18.1,1955.0 22.7,1958.7 26.7,1962.7C31.6,1967.6 36.0,1973.1 40.0,1978.7C44.8,1985.5 49.3,1992.7 53.3,2000.0C57.3,2007.3 60.9,2014.9 64.0,2022.7C67.1,2030.5 69.7,2038.6 72.0,2046.7C73.9,2053.3 75.7,2060.0 76.7,2066.7C77.7,2073.3 78.1,2080.0 78.0,2086.7C77.9,2093.4 77.5,2100.2 76.0,2106.7C74.6,2112.7 72.5,2118.8 69.3,2124.0C66.7,2128.2 62.8,2132.0 58.7,2134.7C54.4,2137.6 49.1,2139.9 44.0,2140.7C38.4,2141.6 32.2,2141.3 26.7,2140.0C22.0,2138.9 17.6,2135.9 13.3,2133.3C8.7,2130.5 4.4,2127.2 0.0,2124.0C-2.7,2122.1 -5.3,2120.0 -8.0,2118.0Z" fill="url(#gf)"/>
<path d="M-8.0,2149.0C-5.3,2149.6 -2.7,2150.2 0.0,2150.7C4.4,2151.6 9.3,2151.5 13.3,2153.3C18.2,2155.5 22.7,2159.1 26.7,2162.7C31.6,2167.1 35.9,2172.2 40.0,2177.3C44.8,2183.3 49.1,2189.6 53.3,2196.0C58.0,2203.0 62.5,2210.0 66.7,2217.3C69.7,2222.5 72.1,2227.9 74.7,2233.3C76.6,2237.2 78.5,2241.2 80.0,2245.3C82.3,2251.8 84.8,2258.3 86.0,2265.0C87.5,2273.2 88.0,2281.7 88.0,2290.0C88.0,2296.7 87.4,2303.5 86.0,2310.0C84.7,2315.7 82.5,2321.4 80.0,2326.7C77.8,2331.4 75.5,2336.3 72.0,2340.0C68.4,2343.9 63.6,2347.2 58.7,2349.3C54.2,2351.2 48.9,2352.2 44.0,2352.0C38.2,2351.8 32.0,2350.3 26.7,2348.0C21.8,2345.9 17.8,2341.8 13.3,2338.7C8.9,2335.6 4.4,2332.5 0.0,2329.3C-2.7,2327.3 -5.3,2325.1 -8.0,2323.0Z" fill="url(#gf)"/>
<path d="M-8.0,2364.0C-5.3,2364.2 -2.7,2364.4 0.0,2364.7C4.4,2365.1 9.0,2365.0 13.3,2366.0C17.9,2367.0 22.5,2368.5 26.7,2370.7C31.4,2373.2 35.9,2376.5 40.0,2380.0C44.8,2384.0 49.2,2388.6 53.3,2393.3C58.1,2398.8 62.5,2404.7 66.7,2410.7C69.7,2414.9 72.2,2419.5 74.7,2424.0C76.6,2427.5 78.4,2431.1 80.0,2434.7C83.5,2442.4 88.4,2449.8 90.0,2458.0C93.4,2474.9 106.0,2504.2 95.0,2510.0C73.3,2521.5 26.3,2510.0 -8.0,2510.0Z" fill="url(#gf)"/>
<path d="M90.0,196.0C86.7,193.3 83.3,190.7 80.0,188.0C74.7,183.7 69.2,179.5 64.0,175.0C59.2,170.8 55.0,165.9 50.0,162.0C45.3,158.4 40.3,153.5 35.0,152.4C31.0,151.5 25.3,153.5 22.0,156.0C19.0,158.3 16.4,163.0 16.0,167.0C15.4,174.0 17.1,181.9 19.0,189.0C22.4,201.6 26.3,214.4 32.0,226.0C37.6,237.4 44.6,248.7 53.0,258.0C60.6,266.3 70.8,272.3 80.0,279.0C83.1,281.3 86.7,283.0 90.0,285.0Z" fill="url(#gd)"/>
<path d="M90.0,297.0C86.7,294.7 83.2,292.5 80.0,290.0C74.6,285.8 69.4,281.2 64.0,277.0C58.7,272.9 53.8,267.9 48.0,265.0C43.2,262.6 36.9,260.4 32.0,261.0C28.6,261.4 24.9,265.0 23.0,268.0C21.2,271.0 21.0,275.3 21.0,279.0C21.0,286.2 21.5,293.6 23.0,300.7C24.9,309.6 27.3,318.7 31.0,327.0C34.9,335.8 40.5,344.0 46.0,352.0C51.1,359.4 56.6,366.7 63.0,373.0C68.0,377.9 74.2,381.6 80.0,385.5C83.2,387.6 86.7,389.2 90.0,391.0Z" fill="url(#gd)"/>
<path d="M90.0,394.0C86.7,392.7 83.2,391.7 80.0,390.0C71.7,385.7 64.0,379.9 55.5,376.0C49.7,373.4 42.7,369.9 37.0,370.5C33.2,370.9 29.0,375.4 27.0,379.0C24.8,383.1 24.6,388.6 24.5,393.5C24.3,404.0 24.1,414.8 26.0,425.0C28.1,435.9 31.8,446.9 36.5,457.0C40.5,465.6 45.9,473.9 52.0,481.0C56.4,486.1 62.3,490.0 68.0,493.5C71.6,495.7 76.0,496.6 80.0,498.0C83.3,499.1 86.7,500.0 90.0,501.0Z" fill="url(#gd)"/>
<path d="M90.0,503.0C86.7,502.2 83.2,501.9 80.0,500.6C74.2,498.2 69.0,494.0 63.0,492.0C55.5,489.5 46.8,486.3 39.6,487.0C36.1,487.3 32.7,491.7 31.0,495.0C29.0,499.0 28.5,504.3 28.5,509.0C28.5,519.6 28.7,530.7 31.0,541.0C33.5,552.0 37.9,562.9 43.0,573.0C47.5,581.9 53.3,590.6 60.0,598.0C65.7,604.3 73.1,609.0 80.0,614.0C83.1,616.3 86.7,618.0 90.0,620.0Z" fill="url(#gd)"/>
<path d="M90.0,621.0C86.7,620.0 83.2,619.4 80.0,618.0C74.5,615.7 69.6,611.6 64.0,610.0C59.0,608.5 52.7,607.3 48.0,608.7C44.0,609.9 39.9,614.1 38.0,618.0C35.6,622.9 34.9,629.3 35.0,635.0C35.1,643.0 36.4,651.2 38.4,659.0C40.7,668.2 44.0,677.4 48.0,686.0C51.8,694.2 56.7,702.1 62.0,709.5C67.4,717.1 73.8,724.0 80.0,731.0C83.1,734.5 86.7,737.7 90.0,741.0Z" fill="url(#gd)"/>
<path d="M90.0,748.0C86.7,746.5 83.2,745.3 80.0,743.6C76.2,741.6 73.0,738.2 69.0,737.0C64.0,735.5 57.7,734.2 53.0,735.6C49.0,736.8 45.0,741.1 43.0,745.0C40.7,749.5 40.0,755.4 40.0,760.7C39.9,769.4 40.9,778.4 42.7,787.0C44.6,796.2 47.2,805.4 51.0,814.0C55.2,823.4 60.8,832.3 66.5,841.0C70.5,847.2 75.3,852.9 80.0,858.5C83.1,862.2 86.7,865.5 90.0,869.0Z" fill="url(#gd)"/>
<path d="M90.0,876.0C86.7,875.0 83.3,874.0 80.0,873.0C76.7,872.0 73.4,870.3 70.0,870.0C66.3,869.7 61.9,869.5 58.6,871.0C54.6,872.8 50.1,876.2 48.0,880.0C45.4,884.7 44.5,891.1 44.4,896.7C44.3,907.1 45.2,917.8 47.5,928.0C50.0,938.9 54.1,949.7 58.6,960.0C61.9,967.7 66.3,975.0 71.0,982.0C73.5,985.7 76.9,988.7 80.0,992.0C83.2,995.4 86.7,998.7 90.0,1002.0Z" fill="url(#gd)"/>
<path d="M90.0,1013.0C86.7,1012.2 83.4,1011.1 80.0,1010.7C75.6,1010.1 70.5,1008.4 66.7,1010.0C62.1,1011.9 57.8,1016.6 55.0,1021.0C52.0,1025.5 49.9,1031.3 49.3,1036.7C48.6,1043.2 50.2,1050.1 51.3,1056.7C52.8,1065.6 54.6,1074.7 57.3,1083.3C58.8,1088.2 61.7,1092.7 64.0,1097.3C67.5,1104.5 71.1,1111.6 74.7,1118.7C76.5,1122.2 78.2,1125.8 80.0,1129.3C83.3,1135.6 86.7,1141.8 90.0,1148.0Z" fill="url(#gd)"/>
<path d="M90.0,1159.0C86.7,1158.7 83.3,1158.2 80.0,1158.0C77.0,1157.8 73.6,1156.6 71.0,1157.8C66.9,1159.6 62.2,1163.0 60.0,1167.0C57.1,1172.3 55.7,1179.2 55.5,1185.5C55.2,1195.9 56.6,1206.7 58.6,1217.0C60.7,1227.9 63.8,1238.8 68.0,1249.0C71.0,1256.3 75.8,1263.0 80.0,1269.7C83.1,1274.6 86.7,1279.2 90.0,1284.0Z" fill="url(#gd)"/>
<path d="M90.0,1312.0C86.7,1312.3 83.3,1312.5 80.0,1313.0C78.6,1313.2 77.0,1313.1 76.0,1314.0C72.3,1317.1 68.1,1320.7 66.0,1325.0C63.3,1330.7 62.1,1337.6 61.8,1344.0C61.3,1354.6 61.8,1365.5 63.4,1376.0C65.0,1386.8 68.0,1397.4 71.3,1407.8C73.5,1414.8 76.8,1421.4 80.0,1428.0C83.0,1434.2 86.7,1440.0 90.0,1446.0Z" fill="url(#gd)"/>
<path d="M90.0,1470.0C86.7,1471.3 82.3,1471.6 80.0,1474.0C76.6,1477.6 74.4,1483.0 73.0,1488.0C70.9,1495.4 70.2,1503.3 69.7,1511.0C69.2,1517.6 69.5,1524.4 70.0,1531.0C70.5,1537.4 71.1,1543.8 72.5,1550.0C74.4,1558.1 77.1,1566.1 80.0,1574.0C83.0,1582.1 86.7,1590.0 90.0,1598.0Z" fill="url(#gd)"/>
<path d="M90.0,1655.0C86.7,1657.2 82.6,1658.8 80.0,1661.7C77.3,1664.8 75.2,1669.0 74.0,1673.0C72.5,1678.0 71.9,1683.4 72.0,1688.7C72.1,1699.3 72.9,1710.0 74.5,1720.5C75.6,1727.5 77.9,1734.3 80.0,1741.0C83.1,1750.8 86.7,1760.3 90.0,1770.0Z" fill="url(#gd)"/>
</g>
<path d="M50.0,162.0C45.0,158.8 40.3,153.5 35.0,152.4C31.0,151.5 25.3,153.5 22.0,156.0C19.0,158.3 16.4,163.0 16.0,167.0C15.4,174.0 17.1,181.9 19.0,189.0C22.4,201.6 27.7,213.7 32.0,226.0" fill="none" stroke="#dfe6ec" stroke-width="1.1" stroke-linecap="round" opacity="0.40" filter="url(#bl)"/>
<path d="M50.0,162.0C45.0,158.8 40.3,153.5 35.0,152.4C31.0,151.5 25.3,153.5 22.0,156.0C19.0,158.3 18.0,163.3 16.0,167.0" fill="none" stroke="#fff" stroke-width="1.4" stroke-linecap="round" opacity="0.88" filter="url(#bl)"/>
<path d="M48.0,265.0C42.7,263.7 36.9,260.4 32.0,261.0C28.6,261.4 24.9,265.0 23.0,268.0C21.2,271.0 21.0,275.3 21.0,279.0C21.0,286.2 21.5,293.6 23.0,300.7C24.9,309.6 28.3,318.2 31.0,327.0" fill="none" stroke="#dfe6ec" stroke-width="1.1" stroke-linecap="round" opacity="0.38" filter="url(#bl)"/>
<path d="M48.0,265.0C42.7,263.7 36.9,260.4 32.0,261.0C28.6,261.4 24.9,265.0 23.0,268.0C21.2,271.0 21.7,275.3 21.0,279.0" fill="none" stroke="#fff" stroke-width="1.4" stroke-linecap="round" opacity="0.85" filter="url(#bl)"/>
<path d="M55.5,376.0C49.3,374.2 42.7,369.9 37.0,370.5C33.2,370.9 29.0,375.4 27.0,379.0C24.8,383.1 24.6,388.6 24.5,393.5C24.3,404.0 24.1,414.8 26.0,425.0C28.1,435.9 33.0,446.3 36.5,457.0" fill="none" stroke="#dfe6ec" stroke-width="1.1" stroke-linecap="round" opacity="0.37" filter="url(#bl)"/>
<path d="M55.5,376.0C49.3,374.2 42.7,369.9 37.0,370.5C33.2,370.9 29.0,375.4 27.0,379.0C24.8,383.1 25.3,388.7 24.5,393.5" fill="none" stroke="#fff" stroke-width="1.4" stroke-linecap="round" opacity="0.82" filter="url(#bl)"/>
<path d="M63.0,492.0C55.2,490.3 46.8,486.3 39.6,487.0C36.1,487.3 32.7,491.7 31.0,495.0C29.0,499.0 28.5,504.3 28.5,509.0C28.5,519.6 28.7,530.7 31.0,541.0C33.5,552.0 39.0,562.3 43.0,573.0" fill="none" stroke="#dfe6ec" stroke-width="1.1" stroke-linecap="round" opacity="0.35" filter="url(#bl)"/>
<path d="M63.0,492.0C55.2,490.3 46.8,486.3 39.6,487.0C36.1,487.3 32.7,491.7 31.0,495.0C29.0,499.0 29.3,504.3 28.5,509.0" fill="none" stroke="#fff" stroke-width="1.4" stroke-linecap="round" opacity="0.79" filter="url(#bl)"/>
<path d="M64.0,610.0C58.7,609.6 52.7,607.3 48.0,608.7C44.0,609.9 39.9,614.1 38.0,618.0C35.6,622.9 34.9,629.3 35.0,635.0C35.1,643.0 36.4,651.2 38.4,659.0C40.7,668.2 44.8,677.0 48.0,686.0" fill="none" stroke="#dfe6ec" stroke-width="1.1" stroke-linecap="round" opacity="0.34" filter="url(#bl)"/>
<path d="M64.0,610.0C58.7,609.6 52.7,607.3 48.0,608.7C44.0,609.9 39.9,614.1 38.0,618.0C35.6,622.9 36.0,629.3 35.0,635.0" fill="none" stroke="#fff" stroke-width="1.4" stroke-linecap="round" opacity="0.75" filter="url(#bl)"/>
<path d="M69.0,737.0C63.7,736.5 57.7,734.2 53.0,735.6C49.0,736.8 45.0,741.1 43.0,745.0C40.7,749.5 40.0,755.4 40.0,760.7C39.9,769.4 40.9,778.4 42.7,787.0C44.6,796.2 48.2,805.0 51.0,814.0" fill="none" stroke="#dfe6ec" stroke-width="1.1" stroke-linecap="round" opacity="0.32" filter="url(#bl)"/>
<path d="M69.0,737.0C63.7,736.5 57.7,734.2 53.0,735.6C49.0,736.8 45.0,741.1 43.0,745.0C40.7,749.5 41.0,755.5 40.0,760.7" fill="none" stroke="#fff" stroke-width="1.4" stroke-linecap="round" opacity="0.72" filter="url(#bl)"/>
<path d="M80.0,873.0C76.7,872.0 73.4,870.3 70.0,870.0C66.3,869.7 61.9,869.5 58.6,871.0C54.6,872.8 50.1,876.2 48.0,880.0C45.4,884.7 44.5,891.1 44.4,896.7C44.3,907.1 46.5,917.6 47.5,928.0" fill="none" stroke="#dfe6ec" stroke-width="1.1" stroke-linecap="round" opacity="0.31" filter="url(#bl)"/>
<path d="M80.0,873.0C76.7,872.0 73.4,870.3 70.0,870.0C66.3,869.7 61.9,869.5 58.6,871.0C54.6,872.8 51.5,877.0 48.0,880.0" fill="none" stroke="#fff" stroke-width="1.4" stroke-linecap="round" opacity="0.68" filter="url(#bl)"/>
<path d="M80.0,1010.7C75.6,1010.5 70.5,1008.4 66.7,1010.0C62.1,1011.9 57.8,1016.6 55.0,1021.0C52.0,1025.5 49.9,1031.3 49.3,1036.7C48.6,1043.2 50.2,1050.1 51.3,1056.7C52.8,1065.6 55.3,1074.4 57.3,1083.3" fill="none" stroke="#dfe6ec" stroke-width="1.1" stroke-linecap="round" opacity="0.29" filter="url(#bl)"/>
<path d="M80.0,1010.7C75.6,1010.5 70.5,1008.4 66.7,1010.0C62.1,1011.9 57.8,1016.6 55.0,1021.0C52.0,1025.5 51.2,1031.5 49.3,1036.7" fill="none" stroke="#fff" stroke-width="1.4" stroke-linecap="round" opacity="0.64" filter="url(#bl)"/>
<path d="M80.0,1158.0C77.0,1157.9 73.6,1156.6 71.0,1157.8C66.9,1159.6 62.2,1163.0 60.0,1167.0C57.1,1172.3 55.7,1179.2 55.5,1185.5C55.2,1195.9 56.6,1206.7 58.6,1217.0C60.7,1227.9 64.9,1238.3 68.0,1249.0" fill="none" stroke="#dfe6ec" stroke-width="1.1" stroke-linecap="round" opacity="0.27" filter="url(#bl)"/>
<path d="M80.0,1158.0C77.0,1157.9 73.6,1156.6 71.0,1157.8C66.9,1159.6 62.2,1163.0 60.0,1167.0C57.1,1172.3 57.0,1179.3 55.5,1185.5" fill="none" stroke="#fff" stroke-width="1.4" stroke-linecap="round" opacity="0.60" filter="url(#bl)"/>
<path d="M90.0,1312.0C86.7,1312.3 83.3,1312.5 80.0,1313.0C78.6,1313.2 77.0,1313.1 76.0,1314.0C72.3,1317.1 68.1,1320.7 66.0,1325.0C63.3,1330.7 62.1,1337.6 61.8,1344.0C61.3,1354.6 62.9,1365.3 63.4,1376.0" fill="none" stroke="#dfe6ec" stroke-width="1.1" stroke-linecap="round" opacity="0.25" filter="url(#bl)"/>
<path d="M90.0,1312.0C86.7,1312.3 83.3,1312.5 80.0,1313.0C78.6,1313.2 77.0,1313.1 76.0,1314.0C72.3,1317.1 69.3,1321.3 66.0,1325.0" fill="none" stroke="#fff" stroke-width="1.4" stroke-linecap="round" opacity="0.55" filter="url(#bl)"/>
<path d="M90.0,1470.0C86.7,1471.3 82.3,1471.6 80.0,1474.0C76.6,1477.6 74.4,1483.0 73.0,1488.0C70.9,1495.4 70.2,1503.3 69.7,1511.0C69.2,1517.6 69.5,1524.4 70.0,1531.0C70.5,1537.4 71.7,1543.7 72.5,1550.0" fill="none" stroke="#dfe6ec" stroke-width="1.1" stroke-linecap="round" opacity="0.23" filter="url(#bl)"/>
<path d="M90.0,1470.0C86.7,1471.3 82.3,1471.6 80.0,1474.0C76.6,1477.6 74.4,1483.0 73.0,1488.0C70.9,1495.4 70.8,1503.3 69.7,1511.0" fill="none" stroke="#fff" stroke-width="1.4" stroke-linecap="round" opacity="0.51" filter="url(#bl)"/>
<path d="M90.0,1655.0C86.7,1657.2 82.6,1658.8 80.0,1661.7C77.3,1664.8 75.2,1669.0 74.0,1673.0C72.5,1678.0 71.9,1683.4 72.0,1688.7C72.1,1699.3 72.9,1710.0 74.5,1720.5C75.6,1727.5 78.2,1734.2 80.0,1741.0" fill="none" stroke="#dfe6ec" stroke-width="1.1" stroke-linecap="round" opacity="0.20" filter="url(#bl)"/>
<path d="M90.0,1655.0C86.7,1657.2 82.6,1658.8 80.0,1661.7C77.3,1664.8 75.2,1669.0 74.0,1673.0C72.5,1678.0 72.7,1683.5 72.0,1688.7" fill="none" stroke="#fff" stroke-width="1.4" stroke-linecap="round" opacity="0.45" filter="url(#bl)"/>
<path d="M8.0,172.0C7.2,175.0 7.0,178.4 5.5,181.0C4.3,183.2 1.8,184.7 0.0,186.5" fill="none" stroke="#dfe6ec" stroke-width="0.9" opacity="0.34" filter="url(#bl)"/>
<path d="M12.8,282.0C11.5,285.7 11.0,289.9 9.0,293.0C7.7,295.0 5.0,296.0 3.0,297.5" fill="none" stroke="#dfe6ec" stroke-width="0.9" opacity="0.32" filter="url(#bl)"/>
<path d="M16.0,390.0C15.7,394.7 16.2,399.6 15.0,404.0C14.2,407.2 12.1,410.4 10.0,413.0C8.8,414.6 6.7,415.3 5.0,416.5" fill="none" stroke="#dfe6ec" stroke-width="0.9" opacity="0.30" filter="url(#bl)"/>
<path d="M20.6,505.0C20.6,508.7 21.3,512.5 20.6,516.0C19.8,520.1 18.6,524.9 16.0,528.0C13.4,531.1 8.7,532.5 5.0,534.8" fill="none" stroke="#dfe6ec" stroke-width="0.9" opacity="0.28" filter="url(#bl)"/>
<path d="M24.5,623.6C25.0,629.1 26.7,634.7 26.0,640.0C25.4,645.1 23.8,651.3 20.6,655.0C17.8,658.3 12.2,659.0 8.0,661.0" fill="none" stroke="#dfe6ec" stroke-width="0.9" opacity="0.26" filter="url(#bl)"/>
<path d="M31.0,766.0C29.9,771.3 30.4,777.7 27.7,782.0C25.4,785.8 20.4,789.0 16.0,790.5C11.1,792.2 5.3,791.2 0.0,791.6" fill="none" stroke="#dfe6ec" stroke-width="0.9" opacity="0.24" filter="url(#bl)"/>
<path d="M35.0,912.5C32.8,917.3 32.1,923.7 28.5,927.0C24.7,930.5 18.1,932.0 12.7,933.0C8.6,933.7 4.2,932.3 0.0,932.0" fill="none" stroke="#dfe6ec" stroke-width="0.9" opacity="0.21" filter="url(#bl)"/>
<path d="M40.7,1043.3C40.0,1048.2 40.4,1053.5 38.7,1058.0C37.1,1062.4 34.2,1066.9 30.7,1070.0C27.1,1073.2 22.0,1076.1 17.3,1076.7C11.8,1077.4 5.8,1074.9 0.0,1074.0" fill="none" stroke="#dfe6ec" stroke-width="0.9" opacity="0.19" filter="url(#bl)"/>
<path d="M46.0,1200.0C44.9,1205.3 45.0,1211.2 42.7,1216.0C40.7,1220.1 37.2,1224.3 33.3,1226.7C28.7,1229.6 22.7,1231.7 17.3,1232.0C11.6,1232.3 5.8,1229.8 0.0,1228.7" fill="none" stroke="#dfe6ec" stroke-width="0.9" opacity="0.17" filter="url(#bl)"/>
<path d="M50.7,1352.0C51.0,1356.3 52.2,1360.8 51.5,1365.0C50.6,1370.8 49.5,1377.5 46.0,1382.0C41.8,1387.5 35.1,1393.8 28.5,1395.0C19.8,1396.6 9.5,1392.0 0.0,1390.5" fill="none" stroke="#dfe6ec" stroke-width="0.9" opacity="0.14" filter="url(#bl)"/>
<path d="M58.0,1523.3C57.6,1527.8 57.8,1532.4 56.7,1536.7C55.3,1542.2 53.7,1548.0 50.7,1552.7C48.1,1556.9 44.2,1560.8 40.0,1563.3C35.7,1565.9 30.3,1567.8 25.3,1568.0C20.5,1568.2 15.4,1566.3 10.7,1564.7C6.9,1563.4 3.6,1561.1 0.0,1559.3" fill="none" stroke="#dfe6ec" stroke-width="0.9" opacity="0.11" filter="url(#bl)"/>
<path d="M63.4,1696.7C63.4,1702.0 64.3,1707.4 63.4,1712.5C62.2,1719.0 60.4,1726.0 57.0,1731.6C54.0,1736.5 49.3,1741.0 44.4,1744.0C39.3,1747.1 32.9,1750.2 27.0,1750.0C18.1,1749.7 9.0,1745.1 0.0,1742.7" fill="none" stroke="#dfe6ec" stroke-width="0.9" opacity="0.08" filter="url(#bl)"/>
<path d="M70.7,1890.0C70.5,1894.4 70.8,1899.0 70.0,1903.3C69.0,1908.7 67.7,1914.4 65.3,1919.3C63.1,1923.7 59.8,1928.2 56.0,1931.3C52.3,1934.4 47.4,1936.7 42.7,1938.0C37.6,1939.4 31.9,1939.8 26.7,1939.3C22.1,1938.9 17.5,1937.2 13.3,1935.3C8.6,1933.2 4.4,1930.0 0.0,1927.3" fill="none" stroke="#dfe6ec" stroke-width="0.9" opacity="0.08" filter="url(#bl)"/>
<path d="M78.0,2086.7C77.3,2093.4 77.5,2100.2 76.0,2106.7C74.6,2112.7 72.5,2118.8 69.3,2124.0C66.7,2128.2 62.8,2132.0 58.7,2134.7C54.4,2137.6 49.1,2139.9 44.0,2140.7C38.4,2141.6 32.2,2141.3 26.7,2140.0C22.0,2138.9 17.6,2135.9 13.3,2133.3C8.7,2130.5 4.4,2127.1 0.0,2124.0" fill="none" stroke="#dfe6ec" stroke-width="0.9" opacity="0.08" filter="url(#bl)"/>
<path d="M88.0,2290.0C87.3,2296.7 87.4,2303.5 86.0,2310.0C84.7,2315.7 82.5,2321.4 80.0,2326.7C77.8,2331.4 75.5,2336.3 72.0,2340.0C68.4,2343.9 63.6,2347.2 58.7,2349.3C54.2,2351.2 48.9,2352.2 44.0,2352.0C38.2,2351.8 32.0,2350.3 26.7,2348.0C21.8,2345.9 17.8,2341.8 13.3,2338.7C8.9,2335.6 4.4,2332.4 0.0,2329.3" fill="none" stroke="#dfe6ec" stroke-width="0.9" opacity="0.08" filter="url(#bl)"/>
<path d="M66.7,2410.7C69.4,2415.1 72.2,2419.5 74.7,2424.0C76.6,2427.5 78.4,2431.1 80.0,2434.7C83.5,2442.4 88.4,2449.8 90.0,2458.0C93.4,2474.9 93.3,2492.7 95.0,2510.0" fill="none" stroke="#dfe6ec" stroke-width="0.9" opacity="0.08" filter="url(#bl)"/>
<rect x="0" y="98" width="80" height="2393" fill="url(#gx)"/>
<ellipse cx="61" cy="151" rx="1.6" ry="2.6" transform="rotate(-30 61 151)" fill="#e6ecf0" opacity="0.8" filter="url(#bl)"/>
<ellipse cx="63" cy="176" rx="1.6" ry="2.6" transform="rotate(-30 63 176)" fill="#e6ecf0" opacity="0.8" filter="url(#bl)"/>
<ellipse cx="65" cy="265" rx="1.6" ry="2.6" transform="rotate(-30 65 265)" fill="#e6ecf0" opacity="0.8" filter="url(#bl)"/>
<ellipse cx="67" cy="292" rx="1.6" ry="2.6" transform="rotate(-30 67 292)" fill="#e6ecf0" opacity="0.8" filter="url(#bl)"/>
<ellipse cx="70" cy="374" rx="1.6" ry="2.6" transform="rotate(-30 70 374)" fill="#e6ecf0" opacity="0.8" filter="url(#bl)"/>
<ellipse cx="73" cy="403" rx="1.6" ry="2.6" transform="rotate(-30 73 403)" fill="#e6ecf0" opacity="0.8" filter="url(#bl)"/>
<ellipse cx="76" cy="489" rx="1.6" ry="2.6" transform="rotate(-30 76 489)" fill="#e6ecf0" opacity="0.8" filter="url(#bl)"/>
<ellipse cx="77" cy="513" rx="1.6" ry="2.6" transform="rotate(-30 77 513)" fill="#e6ecf0" opacity="0.8" filter="url(#bl)"/>
<ellipse cx="3" cy="1546" rx="1.6" ry="2.6" transform="rotate(-30 3 1546)" fill="#e6ecf0" opacity="0.8" filter="url(#bl)"/>
<ellipse cx="2" cy="1592" rx="2.3" ry="3" fill="#1d2a36" opacity="0.6" filter="url(#bl)"/>
<ellipse cx="4" cy="1725" rx="2.3" ry="3" fill="#1d2a36" opacity="0.6" filter="url(#bl)"/>
<ellipse cx="7.3" cy="1777" rx="2.3" ry="3" fill="#1d2a36" opacity="0.6" filter="url(#bl)"/>
<ellipse cx="10" cy="1914" rx="2.3" ry="3" fill="#1d2a36" opacity="0.6" filter="url(#bl)"/>
<ellipse cx="12" cy="1971" rx="2.3" ry="3" fill="#1d2a36" opacity="0.6" filter="url(#bl)"/>
<ellipse cx="15" cy="2115" rx="2.3" ry="3" fill="#1d2a36" opacity="0.6" filter="url(#bl)"/>
<ellipse cx="16" cy="2176" rx="2.3" ry="3" fill="#1d2a36" opacity="0.6" filter="url(#bl)"/>
<ellipse cx="20.7" cy="2327" rx="2.3" ry="3" fill="#1d2a36" opacity="0.6" filter="url(#bl)"/>
<ellipse cx="22" cy="2389" rx="2.3" ry="3" fill="#1d2a36" opacity="0.6" filter="url(#bl)"/>
</svg>
<div style="position:absolute;left:0px;top:4.8px;width:747px;height:93.6px;background:#d8092b;"></div>
<div style="position:absolute;left:516px;top:75.2px;width:228.7px;height:18.4px;background:rgba(255,255,255,0.44);border:1px solid #fff;box-sizing:content-box;"></div>
<div style="position:absolute;left:733.5px;top:83.5px;width:0;height:0;border-left:3px solid transparent;border-right:3px solid transparent;border-top:4px solid #fff;"></div>
<div style="position:absolute;left:80px;top:98.5px;width:669px;height:36.5px;background:#e4e4e4;"></div>
<div style="position:absolute;left:81px;top:188px;width:668px;height:113.6px;background:#f4f4f4;"></div>
<div style="position:absolute;left:113px;top:223px;width:86px;height:5px;background:#b3b3b3;"></div>
<div style="position:absolute;left:263px;top:222px;width:86px;height:5px;background:#b3b3b3;"></div>
<div style="position:absolute;left:424px;top:222px;width:86px;height:5px;background:#b3b3b3;"></div>
<div style="position:absolute;left:611px;top:251px;width:86px;height:5px;background:#b3b3b3;"></div>
<div style="position:absolute;left:83px;top:344px;width:666px;height:111.6px;background:#f4f4f4;"></div>
<div style="position:absolute;left:109px;top:376px;width:86px;height:5px;background:#b3b3b3;"></div>
<div style="position:absolute;left:251px;top:376px;width:86px;height:5px;background:#b3b3b3;"></div>
<div style="position:absolute;left:424px;top:378px;width:86px;height:5px;background:#b3b3b3;"></div>
<div style="position:absolute;left:611px;top:382px;width:86px;height:5px;background:#b3b3b3;"></div>
<div style="position:absolute;left:81px;top:467px;width:668px;height:125.4px;background:#f4f4f4;"></div>
<div style="position:absolute;left:115px;top:493px;width:86px;height:5px;background:#b3b3b3;"></div>
<div style="position:absolute;left:254px;top:496px;width:86px;height:5px;background:#b3b3b3;"></div>
<div style="position:absolute;left:422px;top:497px;width:86px;height:5px;background:#b3b3b3;"></div>
<div style="position:absolute;left:613px;top:528px;width:86px;height:5px;background:#b3b3b3;"></div>
<div style="position:absolute;left:80px;top:607px;width:667px;height:41px;background:#e4e4e4;"></div>
<div style="position:absolute;left:82px;top:819px;width:667px;height:1px;background:#cbcbcb;"></div>
<div style="position:absolute;left:82px;top:849px;width:667px;height:30.5px;background:#f4f4f4;"></div>
<div style="position:absolute;left:82px;top:879px;width:667px;height:1px;background:#cbcbcb;"></div>
<div style="position:absolute;left:82px;top:964px;width:667px;height:1px;background:#cbcbcb;"></div>
<div style="position:absolute;left:82px;top:999px;width:667px;height:35px;background:#f4f4f4;"></div>
<div style="position:absolute;left:82px;top:1034px;width:667px;height:1px;background:#cbcbcb;"></div>
<div style="position:absolute;left:83px;top:1261px;width:666px;height:1px;background:#cbcbcb;"></div>
<div style="position:absolute;left:83px;top:1286px;width:666px;height:25px;background:#f4f4f4;"></div>
<div style="position:absolute;left:83px;top:1311px;width:666px;height:1px;background:#cbcbcb;"></div>
<div style="position:absolute;left:84px;top:1363px;width:665px;height:1px;background:#cbcbcb;"></div>
<div style="position:absolute;left:84px;top:1398px;width:665px;height:35px;background:#f4f4f4;"></div>
<div style="position:absolute;left:84px;top:1433px;width:665px;height:1px;background:#cbcbcb;"></div>
<div style="position:absolute;left:84px;top:1641px;width:665px;height:1px;background:#cbcbcb;"></div>
<div style="position:absolute;left:84px;top:1668px;width:665px;height:28px;background:#f4f4f4;"></div>
<div style="position:absolute;left:84px;top:1696px;width:665px;height:1px;background:#cbcbcb;"></div>
<div style="position:absolute;left:83px;top:1749px;width:666px;height:1px;background:#cbcbcb;"></div>
<div style="position:absolute;left:83px;top:1785px;width:666px;height:36.5px;background:#f4f4f4;"></div>
<div style="position:absolute;left:83px;top:1821px;width:666px;height:1px;background:#cbcbcb;"></div>
<div style="position:absolute;left:81px;top:2000px;width:665px;height:1px;background:#cbcbcb;"></div>
<div style="position:absolute;left:81px;top:2030px;width:665px;height:30px;background:#f4f4f4;"></div>
<div style="position:absolute;left:81px;top:2060px;width:665px;height:1px;background:#cbcbcb;"></div>
<div style="position:absolute;left:81px;top:2110px;width:665px;height:1px;background:#cbcbcb;"></div>
<div style="position:absolute;left:81px;top:2150px;width:665px;height:39px;background:#f4f4f4;"></div>
<div style="position:absolute;left:81px;top:2189px;width:665px;height:1px;background:#cbcbcb;"></div>
<div style="position:absolute;left:0px;top:2500px;width:750px;height:27px;background:#fafafa;"></div>
<div style="position:absolute;top:19px;font-size:27.4px;line-height:35px;white-space:nowrap;color:#fff;font-weight:700;left:0px;transform-origin:0 0;transform:scaleX(1.0278);"><span>COMMERCIAL REAL ESTATE REPORT Q1 2025</span></div>
<div style="position:absolute;top:57px;font-size:18.8px;line-height:25px;white-space:nowrap;color:#fff;font-weight:700;left:6px;transform-origin:0 0;transform:scaleX(1.1085);"><span>Nashville-Davidson--Murfreesboro--Franklin, TN Me</span></div>
<div style="position:absolute;top:53px;font-size:15.5px;line-height:21px;white-space:nowrap;color:#fff;font-weight:700;left:516px;transform-origin:0 0;transform:scaleX(1.1305);"><span>Select a Metro Area</span></div>
<div style="position:absolute;top:78px;font-size:10px;line-height:15px;white-space:nowrap;color:#fff;font-weight:700;left:521px;transform-origin:0 0;transform:scaleX(1.1824);"><span>Nashville-Davidson--Murfreesboro…</span></div>
<div style="position:absolute;top:104px;font-size:19px;line-height:25px;white-space:nowrap;color:#111;font-weight:700;left:81px;transform-origin:0 0;transform:scaleX(1.0961);"><span>Demographics and Economy</span></div>
<div style="position:absolute;top:146px;font-size:19px;line-height:25px;white-space:nowrap;color:#111;font-weight:700;left:82px;transform-origin:0 0;transform:scaleX(1.0986);"><span>Demographics</span></div>
<div style="position:absolute;top:198px;font-size:16px;line-height:21px;white-space:nowrap;color:#111;font-weight:700;left:37.00px;width:240px;text-align:center;transform-origin:50% 0;transform:scaleX(1.0179);"><span>2.8%</span></div>
<div style="position:absolute;top:246px;font-size:13.33px;line-height:19px;white-space:nowrap;color:#333;left:37.00px;width:240px;text-align:center;transform-origin:50% 0;transform:scaleX(1.1447);"><span>population growth</span></div>
<div style="position:absolute;top:263px;font-size:13.33px;line-height:19px;white-space:nowrap;color:#333;left:37.00px;width:240px;text-align:center;transform-origin:50% 0;transform:scaleX(1.0155);"><span>(2023)</span></div>
<div style="position:absolute;top:281px;font-size:12px;line-height:18px;white-space:nowrap;color:#111;font-weight:700;font-style:italic;left:37.00px;width:240px;text-align:center;transform-origin:50% 0;transform:scaleX(1.1062);"><span>U.S.: 0.5%</span></div>
<div style="position:absolute;top:197px;font-size:16px;line-height:21px;white-space:nowrap;color:#111;font-weight:700;left:187.00px;width:240px;text-align:center;transform-origin:50% 0;transform:scaleX(1.0398);"><span>35.5%</span></div>
<div style="position:absolute;top:245px;font-size:13.33px;line-height:19px;white-space:nowrap;color:#333;left:187.00px;width:240px;text-align:center;transform-origin:50% 0;transform:scaleX(1.1381);"><span>share of renters</span></div>
<div style="position:absolute;top:262px;font-size:13.33px;line-height:19px;white-space:nowrap;color:#333;left:187.00px;width:240px;text-align:center;transform-origin:50% 0;transform:scaleX(1.0155);"><span>(2023)</span></div>
<div style="position:absolute;top:280px;font-size:12px;line-height:18px;white-space:nowrap;color:#111;font-weight:700;font-style:italic;left:187.00px;width:240px;text-align:center;transform-origin:50% 0;transform:scaleX(1.1179);"><span>U.S.: 34.7%</span></div>
<div style="position:absolute;top:198px;font-size:16px;line-height:21px;white-space:nowrap;color:#111;font-weight:700;left:347.00px;width:240px;text-align:center;transform-origin:50% 0;transform:scaleX(1.0179);"><span>5.0%</span></div>
<div style="position:absolute;top:246px;font-size:13.33px;line-height:19px;white-space:nowrap;color:#333;left:347.00px;width:240px;text-align:center;transform-origin:50% 0;transform:scaleX(1.1444);"><span>renter household</span></div>
<div style="position:absolute;top:263px;font-size:13.33px;line-height:19px;white-space:nowrap;color:#333;left:347.00px;width:240px;text-align:center;transform-origin:50% 0;transform:scaleX(1.1500);"><span>formation</span></div>
<div style="position:absolute;top:280px;font-size:13.33px;line-height:19px;white-space:nowrap;color:#333;left:347.00px;width:240px;text-align:center;transform-origin:50% 0;transform:scaleX(1.0155);"><span>(2023)</span></div>
<div style="position:absolute;top:195px;font-size:13.33px;line-height:19px;white-space:nowrap;color:#333;left:534.00px;width:240px;text-align:center;transform-origin:50% 0;transform:scaleX(1.1430);"><span>Net Migration</span></div>
<div style="position:absolute;top:213px;font-size:16px;line-height:21px;white-space:nowrap;color:#111;font-weight:700;left:534.00px;width:240px;text-align:center;transform-origin:50% 0;transform:scaleX(1.1046);"><span>24,246</span></div>
<div style="position:absolute;top:233px;font-size:13.33px;line-height:19px;white-space:nowrap;color:#333;left:534.00px;width:240px;text-align:center;transform-origin:50% 0;transform:scaleX(1.0155);"><span>(2023)</span></div>
<div style="position:absolute;top:263px;font-size:16px;line-height:21px;white-space:nowrap;color:#111;font-weight:700;left:534.00px;width:240px;text-align:center;transform-origin:50% 0;transform:scaleX(1.0355);"><span>31,737</span></div>
<div style="position:absolute;top:283px;font-size:13.33px;line-height:19px;white-space:nowrap;color:#333;left:534.00px;width:240px;text-align:center;transform-origin:50% 0;transform:scaleX(1.0155);"><span>(2022)</span></div>
<div style="position:absolute;top:308px;font-size:19px;line-height:25px;white-space:nowrap;color:#111;font-weight:700;left:82.5px;transform-origin:0 0;transform:scaleX(1.0815);"><span>Economy</span></div>
<div style="position:absolute;top:352px;font-size:16px;line-height:21px;white-space:nowrap;color:#111;font-weight:700;left:32.00px;width:240px;text-align:center;transform-origin:50% 0;transform:scaleX(0.9251);"><span>3.1%</span></div>
<div style="position:absolute;top:400px;font-size:13.33px;line-height:19px;white-space:nowrap;color:#333;left:32.00px;width:240px;text-align:center;transform-origin:50% 0;transform:scaleX(1.1423);"><span>GDP growth</span></div>
<div style="position:absolute;top:417px;font-size:13.33px;line-height:19px;white-space:nowrap;color:#333;left:32.00px;width:240px;text-align:center;transform-origin:50% 0;transform:scaleX(1.0155);"><span>(2023)</span></div>
<div style="position:absolute;top:435px;font-size:12px;line-height:18px;white-space:nowrap;color:#111;font-weight:700;font-style:italic;left:32.00px;width:240px;text-align:center;transform-origin:50% 0;transform:scaleX(1.1062);"><span>U.S.: 2.9%</span></div>
<div style="position:absolute;top:354px;font-size:16px;line-height:21px;white-space:nowrap;color:#111;font-weight:700;left:182.00px;width:240px;text-align:center;transform-origin:50% 0;transform:scaleX(1.0145);"><span>5,100</span></div>
<div style="position:absolute;top:402px;font-size:13.33px;line-height:19px;white-space:nowrap;color:#333;left:182.00px;width:240px;text-align:center;transform-origin:50% 0;transform:scaleX(1.0819);"><span>12-month job</span></div>
<div style="position:absolute;top:419px;font-size:13.33px;line-height:19px;white-space:nowrap;color:#333;left:182.00px;width:240px;text-align:center;transform-origin:50% 0;transform:scaleX(1.1500);"><span>creation</span></div>
<div style="position:absolute;top:436px;font-size:13.33px;line-height:19px;white-space:nowrap;color:#333;left:182.00px;width:240px;text-align:center;transform-origin:50% 0;transform:scaleX(1.0776);"><span>(March 2025)</span></div>
<div style="position:absolute;top:353px;font-size:16px;line-height:21px;white-space:nowrap;color:#111;font-weight:700;left:347.00px;width:240px;text-align:center;transform-origin:50% 0;transform:scaleX(1.0179);"><span>0.4%</span></div>
<div style="position:absolute;top:401px;font-size:13.33px;line-height:19px;white-space:nowrap;color:#333;left:347.00px;width:240px;text-align:center;transform-origin:50% 0;transform:scaleX(1.0982);"><span>1-year job growth</span></div>
<div style="position:absolute;top:418px;font-size:13.33px;line-height:19px;white-space:nowrap;color:#333;left:347.00px;width:240px;text-align:center;transform-origin:50% 0;transform:scaleX(1.0776);"><span>(March 2025)</span></div>
<div style="position:absolute;top:436px;font-size:12px;line-height:18px;white-space:nowrap;color:#111;font-weight:700;font-style:italic;left:347.00px;width:240px;text-align:center;transform-origin:50% 0;transform:scaleX(1.0117);"><span>U.S.: 1.1%</span></div>
<div style="position:absolute;top:352px;font-size:16px;line-height:21px;white-space:nowrap;color:#111;font-weight:700;left:535.00px;width:240px;text-align:center;transform-origin:50% 0;transform:scaleX(1.0156);"><span>-0.6%</span></div>
<div style="position:absolute;top:400px;font-size:13.33px;line-height:19px;white-space:nowrap;color:#333;left:535.00px;width:240px;text-align:center;transform-origin:50% 0;transform:scaleX(1.1044);"><span>1-year wage growth</span></div>
<div style="position:absolute;top:417px;font-size:13.33px;line-height:19px;white-space:nowrap;color:#333;left:535.00px;width:240px;text-align:center;transform-origin:50% 0;transform:scaleX(1.0776);"><span>(March 2025)</span></div>
<div style="position:absolute;top:435px;font-size:12px;line-height:18px;white-space:nowrap;color:#111;font-weight:700;font-style:italic;left:535.00px;width:240px;text-align:center;transform-origin:50% 0;transform:scaleX(1.1062);"><span>U.S.: 3.6%</span></div>
<div style="position:absolute;top:471px;font-size:16px;line-height:21px;white-space:nowrap;color:#111;font-weight:700;left:36.00px;width:240px;text-align:center;transform-origin:50% 0;transform:scaleX(0.9715);"><span>$61,163</span></div>
<div style="position:absolute;top:519px;font-size:13.33px;line-height:19px;white-space:nowrap;color:#333;left:36.00px;width:240px;text-align:center;transform-origin:50% 0;transform:scaleX(1.0793);"><span>Average wage per</span></div>
<div style="position:absolute;top:536px;font-size:13.33px;line-height:19px;white-space:nowrap;color:#333;left:36.00px;width:240px;text-align:center;transform-origin:50% 0;transform:scaleX(1.1500);"><span>year</span></div>
<div style="position:absolute;top:553px;font-size:13.33px;line-height:19px;white-space:nowrap;color:#333;left:36.00px;width:240px;text-align:center;transform-origin:50% 0;transform:scaleX(1.0776);"><span>(March 2025)</span></div>
<div style="position:absolute;top:571px;font-size:12px;line-height:18px;white-space:nowrap;color:#111;font-weight:700;font-style:italic;left:36.00px;width:240px;text-align:center;transform-origin:50% 0;transform:scaleX(1.1494);"><span>U.S.: $64.246</span></div>
<div style="position:absolute;top:470px;font-size:16px;line-height:21px;white-space:nowrap;color:#111;font-weight:700;left:181.00px;width:240px;text-align:center;transform-origin:50% 0;transform:scaleX(1.0179);"><span>2.7%</span></div>
<div style="position:absolute;top:518px;font-size:13.33px;line-height:19px;white-space:nowrap;color:#333;left:181.00px;width:240px;text-align:center;transform-origin:50% 0;transform:scaleX(1.1500);"><span>unemployment</span></div>
<div style="position:absolute;top:535px;font-size:13.33px;line-height:19px;white-space:nowrap;color:#333;left:181.00px;width:240px;text-align:center;transform-origin:50% 0;transform:scaleX(1.1500);"><span>rate</span></div>
<div style="position:absolute;top:552px;font-size:13.33px;line-height:19px;white-space:nowrap;color:#333;left:181.00px;width:240px;text-align:center;transform-origin:50% 0;transform:scaleX(1.0776);"><span>(March 2025)</span></div>
<div style="position:absolute;top:570px;font-size:12px;line-height:18px;white-space:nowrap;color:#111;font-weight:700;font-style:italic;left:181.00px;width:240px;text-align:center;transform-origin:50% 0;transform:scaleX(1.1062);"><span>U.S.: 4.2%</span></div>
<div style="position:absolute;top:473px;font-size:16px;line-height:21px;white-space:nowrap;color:#111;font-weight:700;left:347.00px;width:240px;text-align:center;transform-origin:50% 0;transform:scaleX(0.9653);"><span>17.4%</span></div>
<div style="position:absolute;top:521px;font-size:13.33px;line-height:19px;white-space:nowrap;color:#333;left:347.00px;width:240px;text-align:center;transform-origin:50% 0;transform:scaleX(1.1387);"><span>share of workers</span></div>
<div style="position:absolute;top:538px;font-size:13.33px;line-height:19px;white-space:nowrap;color:#333;left:347.00px;width:240px;text-align:center;transform-origin:50% 0;transform:scaleX(1.1500);"><span>teleworking</span></div>
<div style="position:absolute;top:555px;font-size:13.33px;line-height:19px;white-space:nowrap;color:#333;left:347.00px;width:240px;text-align:center;transform-origin:50% 0;transform:scaleX(1.0155);"><span>(2023)</span></div>
<div style="position:absolute;top:573px;font-size:12px;line-height:18px;white-space:nowrap;color:#111;font-weight:700;font-style:italic;left:347.00px;width:240px;text-align:center;transform-origin:50% 0;transform:scaleX(1.0756);"><span>U.S.: 13.8%</span></div>
<div style="position:absolute;top:474px;font-size:13.33px;line-height:19px;white-space:nowrap;color:#333;left:531.00px;width:240px;text-align:center;transform-origin:50% 0;transform:scaleX(1.1458);"><span>International Migration</span></div>
<div style="position:absolute;top:492px;font-size:16px;line-height:21px;white-space:nowrap;color:#111;font-weight:700;left:531.00px;width:240px;text-align:center;transform-origin:50% 0;transform:scaleX(1.0989);"><span>6,922</span></div>
<div style="position:absolute;top:512px;font-size:13.33px;line-height:19px;white-space:nowrap;color:#333;left:531.00px;width:240px;text-align:center;transform-origin:50% 0;transform:scaleX(1.0155);"><span>(2023)</span></div>
<div style="position:absolute;top:541px;font-size:16px;line-height:21px;white-space:nowrap;color:#111;font-weight:700;left:534.00px;width:240px;text-align:center;transform-origin:50% 0;transform:scaleX(1.0145);"><span>4,213</span></div>
<div style="position:absolute;top:561px;font-size:13.33px;line-height:19px;white-space:nowrap;color:#333;left:534.00px;width:240px;text-align:center;transform-origin:50% 0;transform:scaleX(1.0155);"><span>(2022)</span></div>
<div style="position:absolute;top:615px;font-size:21.33px;line-height:28px;white-space:nowrap;color:#111;font-weight:700;left:80px;transform-origin:0 0;transform:scaleX(1.0169);"><span>Commercial Real Estate by Sector</span></div>
<div style="position:absolute;top:650px;font-size:19px;line-height:25px;white-space:nowrap;color:#111;font-weight:700;left:82px;transform-origin:0 0;transform:scaleX(1.0269);"><span>1. Office</span></div>
<div style="position:absolute;top:687px;font-size:15.4px;line-height:21px;white-space:nowrap;color:#3a3a3a;left:87px;transform-origin:0 0;transform:scaleX(1.1433);"><span><b style="color:#111;letter-spacing:0.2px">Demand</b> for office space is <b style="color:#d8092b;letter-spacing:0.15px">stronger than nationwide</b></span></div>
<div style="position:absolute;top:687px;font-size:15.4px;line-height:21px;white-space:nowrap;color:#3a3a3a;left:523.5px;transform-origin:0 0;transform:scaleX(1.1171);"><span>as this area has a faster</span></div>
<div style="position:absolute;top:708px;font-size:15.4px;line-height:21px;white-space:nowrap;color:#3a3a3a;left:87px;transform-origin:0 0;transform:scaleX(1.1638);"><span>absorption of office space. Despite strong conditions, rent prices rose slower</span></div>
<div style="position:absolute;top:729px;font-size:15.4px;line-height:21px;white-space:nowrap;color:#3a3a3a;left:87px;transform-origin:0 0;transform:scaleX(1.1568);"><span>than nationwide. However, vacancy rate is lower in this area.</span></div>
<div style="position:absolute;top:770px;font-size:13px;line-height:19px;white-space:nowrap;color:#111;font-weight:700;left:100.00px;width:240px;text-align:center;transform-origin:50% 0;transform:scaleX(1.1106);"><span>Net Absorption</span></div>
<div style="position:absolute;top:787px;font-size:13px;line-height:19px;white-space:nowrap;color:#111;font-weight:700;left:100.00px;width:240px;text-align:center;transform-origin:50% 0;transform:scaleX(1.1150);"><span>SF</span></div>
<div style="position:absolute;top:770px;font-size:13px;line-height:19px;white-space:nowrap;color:#111;font-weight:700;left:217.00px;width:240px;text-align:center;transform-origin:50% 0;transform:scaleX(1.1106);"><span>Net Absorption</span></div>
<div style="position:absolute;top:787px;font-size:13px;line-height:19px;white-space:nowrap;color:#111;font-weight:700;left:217.00px;width:240px;text-align:center;transform-origin:50% 0;transform:scaleX(1.0561);"><span>SF 12 Mo</span></div>
<div style="position:absolute;top:770px;font-size:13px;line-height:19px;white-space:nowrap;color:#111;font-weight:700;left:334.00px;width:240px;text-align:center;transform-origin:50% 0;transform:scaleX(1.1094);"><span>Market Rent</span></div>
<div style="position:absolute;top:787px;font-size:13px;line-height:19px;white-space:nowrap;color:#111;font-weight:700;left:334.00px;width:240px;text-align:center;transform-origin:50% 0;transform:scaleX(1.0759);"><span>Growth 12 Mo</span></div>
<div style="position:absolute;top:770px;font-size:13px;line-height:19px;white-space:nowrap;color:#111;font-weight:700;left:452.00px;width:240px;text-align:center;transform-origin:50% 0;transform:scaleX(1.1062);"><span>Market Rent/SF</span></div>
<div style="position:absolute;top:770px;font-size:13px;line-height:19px;white-space:nowrap;color:#111;font-weight:700;left:569.00px;width:240px;text-align:center;transform-origin:50% 0;transform:scaleX(1.1101);"><span>Vacancy Rate</span></div>
<div style="position:absolute;top:826px;font-size:12.7px;line-height:18px;white-space:nowrap;color:#111;font-weight:700;left:88px;transform-origin:0 0;transform:scaleX(1.0516);"><span>2025 Q1</span></div>
<div style="position:absolute;top:823px;font-size:15.7px;line-height:21px;white-space:nowrap;color:#555;left:100.00px;width:240px;text-align:center;transform-origin:50% 0;transform:scaleX(1.0432);"><span>-9,549</span></div>
<div style="position:absolute;top:823px;font-size:15.7px;line-height:21px;white-space:nowrap;color:#555;left:217.00px;width:240px;text-align:center;transform-origin:50% 0;transform:scaleX(1.0585);"><span>609,400</span></div>
<div style="position:absolute;top:823px;font-size:15.7px;line-height:21px;white-space:nowrap;color:#555;left:334.00px;width:240px;text-align:center;transform-origin:50% 0;transform:scaleX(1.0147);"><span>0.8%</span></div>
<div style="position:absolute;top:823px;font-size:15.7px;line-height:21px;white-space:nowrap;color:#555;left:452.00px;width:240px;text-align:center;transform-origin:50% 0;transform:scaleX(1.0533);"><span>$33</span></div>
<div style="position:absolute;top:823px;font-size:15.7px;line-height:21px;white-space:nowrap;color:#555;left:569.00px;width:240px;text-align:center;transform-origin:50% 0;transform:scaleX(0.9471);"><span>12.6%</span></div>
<div style="position:absolute;top:856px;font-size:12.7px;line-height:18px;white-space:nowrap;color:#111;font-weight:700;left:88px;transform-origin:0 0;transform:scaleX(1.0516);"><span>2024 Q1</span></div>
<div style="position:absolute;top:853px;font-size:15.7px;line-height:21px;white-space:nowrap;color:#555;left:100.00px;width:240px;text-align:center;transform-origin:50% 0;transform:scaleX(1.0535);"><span>-452,032</span></div>
<div style="position:absolute;top:853px;font-size:15.7px;line-height:21px;white-space:nowrap;color:#555;left:217.00px;width:240px;text-align:center;transform-origin:50% 0;transform:scaleX(0.9954);"><span>155,846</span></div>
<div style="position:absolute;top:853px;font-size:15.7px;line-height:21px;white-space:nowrap;color:#555;left:334.00px;width:240px;text-align:center;transform-origin:50% 0;transform:scaleX(1.0147);"><span>3.7%</span></div>
<div style="position:absolute;top:853px;font-size:15.7px;line-height:21px;white-space:nowrap;color:#555;left:452.00px;width:240px;text-align:center;transform-origin:50% 0;transform:scaleX(1.0533);"><span>$33</span></div>
<div style="position:absolute;top:853px;font-size:15.7px;line-height:21px;white-space:nowrap;color:#555;left:569.00px;width:240px;text-align:center;transform-origin:50% 0;transform:scaleX(0.8666);"><span>11.9%</span></div>
<div style="position:absolute;top:921px;font-size:13px;line-height:19px;white-space:nowrap;color:#111;font-weight:700;left:100.00px;width:240px;text-align:center;transform-origin:50% 0;transform:scaleX(1.1097);"><span>Inventory SF</span></div>
<div style="position:absolute;top:921px;font-size:13px;line-height:19px;white-space:nowrap;color:#111;font-weight:700;left:217.00px;width:240px;text-align:center;transform-origin:50% 0;transform:scaleX(1.1100);"><span>Net Delivered</span></div>
<div style="position:absolute;top:938px;font-size:13px;line-height:19px;white-space:nowrap;color:#111;font-weight:700;left:217.00px;width:240px;text-align:center;transform-origin:50% 0;transform:scaleX(1.1150);"><span>SF</span></div>
<div style="position:absolute;top:921px;font-size:13px;line-height:19px;white-space:nowrap;color:#111;font-weight:700;left:334.00px;width:240px;text-align:center;transform-origin:50% 0;transform:scaleX(1.1100);"><span>Net Delivered</span></div>
<div style="position:absolute;top:938px;font-size:13px;line-height:19px;white-space:nowrap;color:#111;font-weight:700;left:334.00px;width:240px;text-align:center;transform-origin:50% 0;transform:scaleX(1.0752);"><span>SF 12 Months</span></div>
<div style="position:absolute;top:921px;font-size:13px;line-height:19px;white-space:nowrap;color:#111;font-weight:700;left:452.00px;width:240px;text-align:center;transform-origin:50% 0;transform:scaleX(1.1089);"><span>Total Sales</span></div>
<div style="position:absolute;top:938px;font-size:13px;line-height:19px;white-space:nowrap;color:#111;font-weight:700;left:452.00px;width:240px;text-align:center;transform-origin:50% 0;transform:scaleX(1.1150);"><span>Volume</span></div>
<div style="position:absolute;top:921px;font-size:13px;line-height:19px;white-space:nowrap;color:#111;font-weight:700;left:569.00px;width:240px;text-align:center;transform-origin:50% 0;transform:scaleX(1.1091);"><span>Market Cap</span></div>
<div style="position:absolute;top:938px;font-size:13px;line-height:19px;white-space:nowrap;color:#111;font-weight:700;left:569.00px;width:240px;text-align:center;transform-origin:50% 0;transform:scaleX(1.1150);"><span>Rate</span></div>
<div style="position:absolute;top:973px;font-size:12.7px;line-height:18px;white-space:nowrap;color:#111;font-weight:700;left:88px;transform-origin:0 0;transform:scaleX(1.0516);"><span>2025 Q1</span></div>
<div style="position:absolute;top:970px;font-size:15.7px;line-height:21px;white-space:nowrap;color:#555;left:100.00px;width:240px;text-align:center;transform-origin:50% 0;transform:scaleX(1.0110);"><span>104,947,855</span></div>
<div style="position:absolute;top:970px;font-size:15.7px;line-height:21px;white-space:nowrap;color:#555;left:217.00px;width:240px;text-align:center;transform-origin:50% 0;transform:scaleX(0.9954);"><span>385,120</span></div>
<div style="position:absolute;top:970px;font-size:15.7px;line-height:21px;white-space:nowrap;color:#555;left:334.00px;width:240px;text-align:center;transform-origin:50% 0;transform:scaleX(0.9425);"><span>1,555,916</span></div>
<div style="position:absolute;top:970px;font-size:15.7px;line-height:21px;white-space:nowrap;color:#555;left:452.00px;width:240px;text-align:center;transform-origin:50% 0;transform:scaleX(1.0143);"><span>$102.52M</span></div>
<div style="position:absolute;top:970px;font-size:15.7px;line-height:21px;white-space:nowrap;color:#555;left:569.00px;width:240px;text-align:center;transform-origin:50% 0;transform:scaleX(1.0147);"><span>8.7%</span></div>
<div style="position:absolute;top:1008px;font-size:12.7px;line-height:18px;white-space:nowrap;color:#111;font-weight:700;left:88px;transform-origin:0 0;transform:scaleX(1.0516);"><span>2024 Q1</span></div>
<div style="position:absolute;top:1005px;font-size:15.7px;line-height:21px;white-space:nowrap;color:#555;left:100.00px;width:240px;text-align:center;transform-origin:50% 0;transform:scaleX(0.9700);"><span>103,391,939</span></div>
<div style="position:absolute;top:1005px;font-size:15.7px;line-height:21px;white-space:nowrap;color:#555;left:217.00px;width:240px;text-align:center;transform-origin:50% 0;transform:scaleX(1.0489);"><span>7,006</span></div>
<div style="position:absolute;top:1005px;font-size:15.7px;line-height:21px;white-space:nowrap;color:#555;left:334.00px;width:240px;text-align:center;transform-origin:50% 0;transform:scaleX(0.9323);"><span>831,105</span></div>
<div style="position:absolute;top:1005px;font-size:15.7px;line-height:21px;white-space:nowrap;color:#555;left:452.00px;width:240px;text-align:center;transform-origin:50% 0;transform:scaleX(1.0636);"><span>$79.80M</span></div>
<div style="position:absolute;top:1005px;font-size:15.7px;line-height:21px;white-space:nowrap;color:#555;left:569.00px;width:240px;text-align:center;transform-origin:50% 0;transform:scaleX(1.0147);"><span>8.4%</span></div>
<div style="position:absolute;top:1062px;font-size:19px;line-height:25px;white-space:nowrap;color:#111;font-weight:700;left:83px;transform-origin:0 0;transform:scaleX(1.1216);"><span>2. Multifamily</span></div>
<div style="position:absolute;top:1106px;font-size:15.4px;line-height:21px;white-space:nowrap;color:#3a3a3a;left:90px;transform-origin:0 0;transform:scaleX(1.1606);"><span><b style="color:#333;letter-spacing:0.2px">Demand</b> for multifamily space is <b style="color:#d8092b;letter-spacing:0.15px">stronger than nationwide</b></span></div>
<div style="position:absolute;top:1106px;font-size:15.4px;line-height:21px;white-space:nowrap;color:#3a3a3a;left:576px;transform-origin:0 0;transform:scaleX(1.0988);"><span>as this area has a</span></div>
<div style="position:absolute;top:1127px;font-size:15.4px;line-height:21px;white-space:nowrap;color:#3a3a3a;left:90px;transform-origin:0 0;transform:scaleX(1.1744);"><span>faster absorption of multifamily space. Despite strong conditions, rent prices rose</span></div>
<div style="position:absolute;top:1148px;font-size:15.4px;line-height:21px;white-space:nowrap;color:#3a3a3a;left:90px;transform-origin:0 0;transform:scaleX(1.1677);"><span>slower than nationwide and vacancy rate is higher in this area.</span></div>
<div style="position:absolute;top:1176px;font-size:13px;line-height:19px;white-space:nowrap;color:#111;font-weight:700;left:91.00px;width:240px;text-align:center;transform-origin:50% 0;transform:scaleX(1.1150);"><span>Absorption</span></div>
<div style="position:absolute;top:1193px;font-size:13px;line-height:19px;white-space:nowrap;color:#111;font-weight:700;left:91.00px;width:240px;text-align:center;transform-origin:50% 0;transform:scaleX(1.1150);"><span>Units</span></div>
<div style="position:absolute;top:1176px;font-size:13px;line-height:19px;white-space:nowrap;color:#111;font-weight:700;left:189.00px;width:240px;text-align:center;transform-origin:50% 0;transform:scaleX(1.1150);"><span>Absorption</span></div>
<div style="position:absolute;top:1193px;font-size:13px;line-height:19px;white-space:nowrap;color:#111;font-weight:700;left:189.00px;width:240px;text-align:center;transform-origin:50% 0;transform:scaleX(1.0567);"><span>Units 12</span></div>
<div style="position:absolute;top:1210px;font-size:13px;line-height:19px;white-space:nowrap;color:#111;font-weight:700;left:189.00px;width:240px;text-align:center;transform-origin:50% 0;transform:scaleX(1.1150);"><span>Months</span></div>
<div style="position:absolute;top:1176px;font-size:13px;line-height:19px;white-space:nowrap;color:#111;font-weight:700;left:286.00px;width:240px;text-align:center;transform-origin:50% 0;transform:scaleX(1.1150);"><span>Market</span></div>
<div style="position:absolute;top:1193px;font-size:13px;line-height:19px;white-space:nowrap;color:#111;font-weight:700;left:286.00px;width:240px;text-align:center;transform-origin:50% 0;transform:scaleX(1.1095);"><span>Asking Rent</span></div>
<div style="position:absolute;top:1210px;font-size:13px;line-height:19px;white-space:nowrap;color:#111;font-weight:700;left:286.00px;width:240px;text-align:center;transform-origin:50% 0;transform:scaleX(1.0687);"><span>Growth 12</span></div>
<div style="position:absolute;top:1227px;font-size:13px;line-height:19px;white-space:nowrap;color:#111;font-weight:700;left:286.00px;width:240px;text-align:center;transform-origin:50% 0;transform:scaleX(1.1150);"><span>Months</span></div>
<div style="position:absolute;top:1176px;font-size:13px;line-height:19px;white-space:nowrap;color:#111;font-weight:700;left:383.00px;width:240px;text-align:center;transform-origin:50% 0;transform:scaleX(1.1150);"><span>Market</span></div>
<div style="position:absolute;top:1193px;font-size:13px;line-height:19px;white-space:nowrap;color:#111;font-weight:700;left:383.00px;width:240px;text-align:center;transform-origin:50% 0;transform:scaleX(1.1150);"><span>Asking</span></div>
<div style="position:absolute;top:1210px;font-size:13px;line-height:19px;white-space:nowrap;color:#111;font-weight:700;left:383.00px;width:240px;text-align:center;transform-origin:50% 0;transform:scaleX(1.1078);"><span>Rent/Unit</span></div>
<div style="position:absolute;top:1176px;font-size:13px;line-height:19px;white-space:nowrap;color:#111;font-weight:700;left:481.00px;width:240px;text-align:center;transform-origin:50% 0;transform:scaleX(1.1150);"><span>Market</span></div>
<div style="position:absolute;top:1193px;font-size:13px;line-height:19px;white-space:nowrap;color:#111;font-weight:700;left:481.00px;width:240px;text-align:center;transform-origin:50% 0;transform:scaleX(1.1150);"><span>Effective</span></div>
<div style="position:absolute;top:1210px;font-size:13px;line-height:19px;white-space:nowrap;color:#111;font-weight:700;left:481.00px;width:240px;text-align:center;transform-origin:50% 0;transform:scaleX(1.1078);"><span>Rent/Unit</span></div>
<div style="position:absolute;top:1176px;font-size:13px;line-height:19px;white-space:nowrap;color:#111;font-weight:700;left:578.00px;width:240px;text-align:center;transform-origin:50% 0;transform:scaleX(1.1150);"><span>Vacancy</span></div>
<div style="position:absolute;top:1193px;font-size:13px;line-height:19px;white-space:nowrap;color:#111;font-weight:700;left:578.00px;width:240px;text-align:center;transform-origin:50% 0;transform:scaleX(1.1150);"><span>Rate</span></div>
<div style="position:absolute;top:1265px;font-size:12.7px;line-height:18px;white-space:nowrap;color:#111;font-weight:700;left:89px;transform-origin:0 0;transform:scaleX(1.0516);"><span>2025 Q1</span></div>
<div style="position:absolute;top:1263px;font-size:15.7px;line-height:21px;white-space:nowrap;color:#555;left:91.00px;width:240px;text-align:center;transform-origin:50% 0;transform:scaleX(1.0489);"><span>2,058</span></div>
<div style="position:absolute;top:1263px;font-size:15.7px;line-height:21px;white-space:nowrap;color:#555;left:189.00px;width:240px;text-align:center;transform-origin:50% 0;transform:scaleX(0.9800);"><span>10,220</span></div>
<div style="position:absolute;top:1263px;font-size:15.7px;line-height:21px;white-space:nowrap;color:#555;left:286.00px;width:240px;text-align:center;transform-origin:50% 0;transform:scaleX(1.0128);"><span>-0.7%</span></div>
<div style="position:absolute;top:1263px;font-size:15.7px;line-height:21px;white-space:nowrap;color:#555;left:383.00px;width:240px;text-align:center;transform-origin:50% 0;transform:scaleX(0.8909);"><span>$1,712</span></div>
<div style="position:absolute;top:1263px;font-size:15.7px;line-height:21px;white-space:nowrap;color:#555;left:481.00px;width:240px;text-align:center;transform-origin:50% 0;transform:scaleX(0.9655);"><span>$1,682</span></div>
<div style="position:absolute;top:1263px;font-size:15.7px;line-height:21px;white-space:nowrap;color:#555;left:578.00px;width:240px;text-align:center;transform-origin:50% 0;transform:scaleX(0.8666);"><span>11.4%</span></div>
<div style="position:absolute;top:1290px;font-size:12.7px;line-height:18px;white-space:nowrap;color:#111;font-weight:700;left:89px;transform-origin:0 0;transform:scaleX(1.0516);"><span>2024 Q1</span></div>
<div style="position:absolute;top:1288px;font-size:15.7px;line-height:21px;white-space:nowrap;color:#555;left:91.00px;width:240px;text-align:center;transform-origin:50% 0;transform:scaleX(1.0489);"><span>2,337</span></div>
<div style="position:absolute;top:1288px;font-size:15.7px;line-height:21px;white-space:nowrap;color:#555;left:189.00px;width:240px;text-align:center;transform-origin:50% 0;transform:scaleX(0.9578);"><span>8,581</span></div>
<div style="position:absolute;top:1288px;font-size:15.7px;line-height:21px;white-space:nowrap;color:#555;left:286.00px;width:240px;text-align:center;transform-origin:50% 0;transform:scaleX(0.9255);"><span>-1.3%</span></div>
<div style="position:absolute;top:1288px;font-size:15.7px;line-height:21px;white-space:nowrap;color:#555;left:383.00px;width:240px;text-align:center;transform-origin:50% 0;transform:scaleX(0.9655);"><span>$1,724</span></div>
<div style="position:absolute;top:1288px;font-size:15.7px;line-height:21px;white-space:nowrap;color:#555;left:481.00px;width:240px;text-align:center;transform-origin:50% 0;transform:scaleX(0.9655);"><span>$1,683</span></div>
<div style="position:absolute;top:1288px;font-size:15.7px;line-height:21px;white-space:nowrap;color:#555;left:578.00px;width:240px;text-align:center;transform-origin:50% 0;transform:scaleX(0.8666);"><span>11.8%</span></div>
<div style="position:absolute;top:1322px;font-size:13px;line-height:19px;white-space:nowrap;color:#111;font-weight:700;left:116.00px;width:240px;text-align:center;transform-origin:50% 0;transform:scaleX(1.1106);"><span>Inventory Units</span></div>
<div style="position:absolute;top:1322px;font-size:13px;line-height:19px;white-space:nowrap;color:#111;font-weight:700;left:262.00px;width:240px;text-align:center;transform-origin:50% 0;transform:scaleX(1.1080);"><span>Net Delivered Units</span></div>
<div style="position:absolute;top:1322px;font-size:13px;line-height:19px;white-space:nowrap;color:#111;font-weight:700;left:408.00px;width:240px;text-align:center;transform-origin:50% 0;transform:scaleX(1.1080);"><span>Net Delivered Units</span></div>
<div style="position:absolute;top:1339px;font-size:13px;line-height:19px;white-space:nowrap;color:#111;font-weight:700;left:408.00px;width:240px;text-align:center;transform-origin:50% 0;transform:scaleX(1.0350);"><span>12 Mo</span></div>
<div style="position:absolute;top:1322px;font-size:13px;line-height:19px;white-space:nowrap;color:#111;font-weight:700;left:554.00px;width:240px;text-align:center;transform-origin:50% 0;transform:scaleX(1.1068);"><span>Market Cap Rate</span></div>
<div style="position:absolute;top:1372px;font-size:12.7px;line-height:18px;white-space:nowrap;color:#111;font-weight:700;left:90px;transform-origin:0 0;transform:scaleX(1.0516);"><span>2025 Q1</span></div>
<div style="position:absolute;top:1370px;font-size:15.7px;line-height:21px;white-space:nowrap;color:#555;left:116.00px;width:240px;text-align:center;transform-origin:50% 0;transform:scaleX(0.9954);"><span>179,694</span></div>
<div style="position:absolute;top:1370px;font-size:15.7px;line-height:21px;white-space:nowrap;color:#555;left:262.00px;width:240px;text-align:center;transform-origin:50% 0;transform:scaleX(0.9578);"><span>1,394</span></div>
<div style="position:absolute;top:1370px;font-size:15.7px;line-height:21px;white-space:nowrap;color:#555;left:408.00px;width:240px;text-align:center;transform-origin:50% 0;transform:scaleX(0.9800);"><span>10,873</span></div>
<div style="position:absolute;top:1370px;font-size:15.7px;line-height:21px;white-space:nowrap;color:#555;left:554.00px;width:240px;text-align:center;transform-origin:50% 0;transform:scaleX(1.0147);"><span>5.5%</span></div>
<div style="position:absolute;top:1407px;font-size:12.7px;line-height:18px;white-space:nowrap;color:#111;font-weight:700;left:90px;transform-origin:0 0;transform:scaleX(1.0516);"><span>2024 Q1</span></div>
<div style="position:absolute;top:1405px;font-size:15.7px;line-height:21px;white-space:nowrap;color:#555;left:116.00px;width:240px;text-align:center;transform-origin:50% 0;transform:scaleX(0.9323);"><span>168,821</span></div>
<div style="position:absolute;top:1405px;font-size:15.7px;line-height:21px;white-space:nowrap;color:#555;left:262.00px;width:240px;text-align:center;transform-origin:50% 0;transform:scaleX(1.0489);"><span>3,623</span></div>
<div style="position:absolute;top:1405px;font-size:15.7px;line-height:21px;white-space:nowrap;color:#555;left:408.00px;width:240px;text-align:center;transform-origin:50% 0;transform:scaleX(0.9055);"><span>12,156</span></div>
<div style="position:absolute;top:1405px;font-size:15.7px;line-height:21px;white-space:nowrap;color:#555;left:554.00px;width:240px;text-align:center;transform-origin:50% 0;transform:scaleX(1.0147);"><span>5.5%</span></div>
<div style="position:absolute;top:1455px;font-size:19px;line-height:25px;white-space:nowrap;color:#111;font-weight:700;left:82px;transform-origin:0 0;transform:scaleX(1.0840);"><span>3. Retail</span></div>
<div style="position:absolute;top:1498px;font-size:15.4px;line-height:21px;white-space:nowrap;color:#3a3a3a;left:90px;transform-origin:0 0;transform:scaleX(1.1449);"><span><b style="color:#333;letter-spacing:0.2px">Demand</b> for retail space is <b style="color:#d8092b;letter-spacing:0.15px">stronger than nationwide</b></span></div>
<div style="position:absolute;top:1498px;font-size:15.4px;line-height:21px;white-space:nowrap;color:#3a3a3a;left:524px;transform-origin:0 0;transform:scaleX(1.1171);"><span>as this area has a faster</span></div>
<div style="position:absolute;top:1519px;font-size:15.4px;line-height:21px;white-space:nowrap;color:#3a3a3a;left:90px;transform-origin:0 0;transform:scaleX(1.1643);"><span>absorption of retail space. As a result, rent prices rose faster than nationwide and</span></div>
<div style="position:absolute;top:1540px;font-size:15.4px;line-height:21px;white-space:nowrap;color:#3a3a3a;left:90px;transform-origin:0 0;transform:scaleX(1.1360);"><span>vacancy rate is lower in this area.</span></div>
<div style="position:absolute;top:1587px;font-size:13px;line-height:19px;white-space:nowrap;color:#111;font-weight:700;left:102.00px;width:240px;text-align:center;transform-origin:50% 0;transform:scaleX(1.1106);"><span>Net Absorption</span></div>
<div style="position:absolute;top:1604px;font-size:13px;line-height:19px;white-space:nowrap;color:#111;font-weight:700;left:102.00px;width:240px;text-align:center;transform-origin:50% 0;transform:scaleX(1.1150);"><span>SF</span></div>
<div style="position:absolute;top:1587px;font-size:13px;line-height:19px;white-space:nowrap;color:#111;font-weight:700;left:219.00px;width:240px;text-align:center;transform-origin:50% 0;transform:scaleX(1.1106);"><span>Net Absorption</span></div>
<div style="position:absolute;top:1604px;font-size:13px;line-height:19px;white-space:nowrap;color:#111;font-weight:700;left:219.00px;width:240px;text-align:center;transform-origin:50% 0;transform:scaleX(1.0752);"><span>SF 12 Months</span></div>
<div style="position:absolute;top:1587px;font-size:13px;line-height:19px;white-space:nowrap;color:#111;font-weight:700;left:337.00px;width:240px;text-align:center;transform-origin:50% 0;transform:scaleX(1.1094);"><span>Market Rent</span></div>
<div style="position:absolute;top:1604px;font-size:13px;line-height:19px;white-space:nowrap;color:#111;font-weight:700;left:337.00px;width:240px;text-align:center;transform-origin:50% 0;transform:scaleX(1.0687);"><span>Growth 12</span></div>
<div style="position:absolute;top:1621px;font-size:13px;line-height:19px;white-space:nowrap;color:#111;font-weight:700;left:337.00px;width:240px;text-align:center;transform-origin:50% 0;transform:scaleX(1.1150);"><span>Months</span></div>
<div style="position:absolute;top:1587px;font-size:13px;line-height:19px;white-space:nowrap;color:#111;font-weight:700;left:454.00px;width:240px;text-align:center;transform-origin:50% 0;transform:scaleX(1.1062);"><span>Market Rent/SF</span></div>
<div style="position:absolute;top:1587px;font-size:13px;line-height:19px;white-space:nowrap;color:#111;font-weight:700;left:571.00px;width:240px;text-align:center;transform-origin:50% 0;transform:scaleX(1.1101);"><span>Vacancy Rate</span></div>
<div style="position:absolute;top:1646px;font-size:12.7px;line-height:18px;white-space:nowrap;color:#111;font-weight:700;left:90px;transform-origin:0 0;transform:scaleX(1.0516);"><span>2025 Q1</span></div>
<div style="position:absolute;top:1644px;font-size:15.7px;line-height:21px;white-space:nowrap;color:#555;left:102.00px;width:240px;text-align:center;transform-origin:50% 0;transform:scaleX(0.9954);"><span>162,684</span></div>
<div style="position:absolute;top:1644px;font-size:15.7px;line-height:21px;white-space:nowrap;color:#555;left:219.00px;width:240px;text-align:center;transform-origin:50% 0;transform:scaleX(1.0585);"><span>697,627</span></div>
<div style="position:absolute;top:1644px;font-size:15.7px;line-height:21px;white-space:nowrap;color:#555;left:337.00px;width:240px;text-align:center;transform-origin:50% 0;transform:scaleX(1.0147);"><span>3.9%</span></div>
<div style="position:absolute;top:1644px;font-size:15.7px;line-height:21px;white-space:nowrap;color:#555;left:454.00px;width:240px;text-align:center;transform-origin:50% 0;transform:scaleX(1.0533);"><span>$29</span></div>
<div style="position:absolute;top:1644px;font-size:15.7px;line-height:21px;white-space:nowrap;color:#555;left:571.00px;width:240px;text-align:center;transform-origin:50% 0;transform:scaleX(0.9146);"><span>3.1%</span></div>
<div style="position:absolute;top:1674px;font-size:12.7px;line-height:18px;white-space:nowrap;color:#111;font-weight:700;left:90px;transform-origin:0 0;transform:scaleX(1.0516);"><span>2024 Q1</span></div>
<div style="position:absolute;top:1672px;font-size:15.7px;line-height:21px;white-space:nowrap;color:#555;left:102.00px;width:240px;text-align:center;transform-origin:50% 0;transform:scaleX(0.9323);"><span>159,619</span></div>
<div style="position:absolute;top:1672px;font-size:15.7px;line-height:21px;white-space:nowrap;color:#555;left:219.00px;width:240px;text-align:center;transform-origin:50% 0;transform:scaleX(0.9938);"><span>1,397,535</span></div>
<div style="position:absolute;top:1672px;font-size:15.7px;line-height:21px;white-space:nowrap;color:#555;left:337.00px;width:240px;text-align:center;transform-origin:50% 0;transform:scaleX(1.0147);"><span>4.6%</span></div>
<div style="position:absolute;top:1672px;font-size:15.7px;line-height:21px;white-space:nowrap;color:#555;left:454.00px;width:240px;text-align:center;transform-origin:50% 0;transform:scaleX(1.0533);"><span>$28</span></div>
<div style="position:absolute;top:1672px;font-size:15.7px;line-height:21px;white-space:nowrap;color:#555;left:571.00px;width:240px;text-align:center;transform-origin:50% 0;transform:scaleX(1.0147);"><span>3.2%</span></div>
<div style="position:absolute;top:1708px;font-size:13px;line-height:19px;white-space:nowrap;color:#111;font-weight:700;left:115.00px;width:240px;text-align:center;transform-origin:50% 0;transform:scaleX(1.1097);"><span>Inventory SF</span></div>
<div style="position:absolute;top:1708px;font-size:13px;line-height:19px;white-space:nowrap;color:#111;font-weight:700;left:262.00px;width:240px;text-align:center;transform-origin:50% 0;transform:scaleX(1.1068);"><span>Market Cap Rate</span></div>
<div style="position:absolute;top:1708px;font-size:13px;line-height:19px;white-space:nowrap;color:#111;font-weight:700;left:408.00px;width:240px;text-align:center;transform-origin:50% 0;transform:scaleX(1.1080);"><span>Total Sales Volume</span></div>
<div style="position:absolute;top:1708px;font-size:13px;line-height:19px;white-space:nowrap;color:#111;font-weight:700;left:554.00px;width:240px;text-align:center;transform-origin:50% 0;transform:scaleX(1.1110);"><span>Transaction Sale</span></div>
<div style="position:absolute;top:1725px;font-size:13px;line-height:19px;white-space:nowrap;color:#111;font-weight:700;left:554.00px;width:240px;text-align:center;transform-origin:50% 0;transform:scaleX(1.1070);"><span>Price/SF</span></div>
<div style="position:absolute;top:1759px;font-size:12.7px;line-height:18px;white-space:nowrap;color:#111;font-weight:700;left:89px;transform-origin:0 0;transform:scaleX(1.0516);"><span>2025 Q1</span></div>
<div style="position:absolute;top:1757px;font-size:15.7px;line-height:21px;white-space:nowrap;color:#555;left:115.00px;width:240px;text-align:center;transform-origin:50% 0;transform:scaleX(1.0110);"><span>124,939,962</span></div>
<div style="position:absolute;top:1757px;font-size:15.7px;line-height:21px;white-space:nowrap;color:#555;left:262.00px;width:240px;text-align:center;transform-origin:50% 0;transform:scaleX(1.0147);"><span>6.3%</span></div>
<div style="position:absolute;top:1757px;font-size:15.7px;line-height:21px;white-space:nowrap;color:#555;left:408.00px;width:240px;text-align:center;transform-origin:50% 0;transform:scaleX(1.0143);"><span>$349.91M</span></div>
<div style="position:absolute;top:1757px;font-size:15.7px;line-height:21px;white-space:nowrap;color:#555;left:554.00px;width:240px;text-align:center;transform-origin:50% 0;transform:scaleX(1.0600);"><span>$335</span></div>
<div style="position:absolute;top:1795px;font-size:12.7px;line-height:18px;white-space:nowrap;color:#111;font-weight:700;left:89px;transform-origin:0 0;transform:scaleX(1.0516);"><span>2024 Q1</span></div>
<div style="position:absolute;top:1793px;font-size:15.7px;line-height:21px;white-space:nowrap;color:#555;left:115.00px;width:240px;text-align:center;transform-origin:50% 0;transform:scaleX(0.9290);"><span>124,301,133</span></div>
<div style="position:absolute;top:1793px;font-size:15.7px;line-height:21px;white-space:nowrap;color:#555;left:262.00px;width:240px;text-align:center;transform-origin:50% 0;transform:scaleX(1.0147);"><span>6.4%</span></div>
<div style="position:absolute;top:1793px;font-size:15.7px;line-height:21px;white-space:nowrap;color:#555;left:408.00px;width:240px;text-align:center;transform-origin:50% 0;transform:scaleX(0.9631);"><span>$139.10M</span></div>
<div style="position:absolute;top:1793px;font-size:15.7px;line-height:21px;white-space:nowrap;color:#555;left:554.00px;width:240px;text-align:center;transform-origin:50% 0;transform:scaleX(1.0600);"><span>$284</span></div>
<div style="position:absolute;top:1843px;font-size:19px;line-height:25px;white-space:nowrap;color:#111;font-weight:700;left:82px;transform-origin:0 0;transform:scaleX(1.1159);"><span>4. Industrial</span></div>
<div style="position:absolute;top:1880px;font-size:15.4px;line-height:21px;white-space:nowrap;color:#3a3a3a;left:83px;transform-origin:0 0;transform:scaleX(1.1516);"><span><b style="color:#111;letter-spacing:0.2px">Demand</b> for industrial space is <b style="color:#d8092b;letter-spacing:0.15px">stronger than nationwide</b></span></div>
<div style="position:absolute;top:1880px;font-size:15.4px;line-height:21px;white-space:nowrap;color:#3a3a3a;left:552px;transform-origin:0 0;transform:scaleX(1.1110);"><span>as this area has a faster</span></div>
<div style="position:absolute;top:1901px;font-size:15.4px;line-height:21px;white-space:nowrap;color:#3a3a3a;left:83px;transform-origin:0 0;transform:scaleX(1.1671);"><span>absorption of industrial space. As a result, rent prices rose faster than nationwide</span></div>
<div style="position:absolute;top:1922px;font-size:15.4px;line-height:21px;white-space:nowrap;color:#3a3a3a;left:83px;transform-origin:0 0;transform:scaleX(1.1417);"><span>abd vacancy rate is lower in this area.</span></div>
<div style="position:absolute;top:1951px;font-size:13px;line-height:19px;white-space:nowrap;color:#111;font-weight:700;left:99.00px;width:240px;text-align:center;transform-origin:50% 0;transform:scaleX(1.1106);"><span>Net Absorption</span></div>
<div style="position:absolute;top:1968px;font-size:13px;line-height:19px;white-space:nowrap;color:#111;font-weight:700;left:99.00px;width:240px;text-align:center;transform-origin:50% 0;transform:scaleX(1.1150);"><span>SF</span></div>
<div style="position:absolute;top:1951px;font-size:13px;line-height:19px;white-space:nowrap;color:#111;font-weight:700;left:216.00px;width:240px;text-align:center;transform-origin:50% 0;transform:scaleX(1.1106);"><span>Net Absorption</span></div>
<div style="position:absolute;top:1968px;font-size:13px;line-height:19px;white-space:nowrap;color:#111;font-weight:700;left:216.00px;width:240px;text-align:center;transform-origin:50% 0;transform:scaleX(1.0752);"><span>SF 12 Months</span></div>
<div style="position:absolute;top:1951px;font-size:13px;line-height:19px;white-space:nowrap;color:#111;font-weight:700;left:333.00px;width:240px;text-align:center;transform-origin:50% 0;transform:scaleX(1.1094);"><span>Market Rent</span></div>
<div style="position:absolute;top:1968px;font-size:13px;line-height:19px;white-space:nowrap;color:#111;font-weight:700;left:333.00px;width:240px;text-align:center;transform-origin:50% 0;transform:scaleX(1.0628);"><span>Growth 12 Mon..</span></div>
<div style="position:absolute;top:1951px;font-size:13px;line-height:19px;white-space:nowrap;color:#111;font-weight:700;left:449.00px;width:240px;text-align:center;transform-origin:50% 0;transform:scaleX(1.1062);"><span>Market Rent/SF</span></div>
<div style="position:absolute;top:1951px;font-size:13px;line-height:19px;white-space:nowrap;color:#111;font-weight:700;left:566.00px;width:240px;text-align:center;transform-origin:50% 0;transform:scaleX(1.1101);"><span>Vacancy Rate</span></div>
<div style="position:absolute;top:2007px;font-size:12.7px;line-height:18px;white-space:nowrap;color:#111;font-weight:700;left:87px;transform-origin:0 0;transform:scaleX(1.0516);"><span>2025 Q1</span></div>
<div style="position:absolute;top:2005px;font-size:15.7px;line-height:21px;white-space:nowrap;color:#555;left:99.00px;width:240px;text-align:center;transform-origin:50% 0;transform:scaleX(1.0585);"><span>477,334</span></div>
<div style="position:absolute;top:2005px;font-size:15.7px;line-height:21px;white-space:nowrap;color:#555;left:216.00px;width:240px;text-align:center;transform-origin:50% 0;transform:scaleX(0.9938);"><span>3,871,859</span></div>
<div style="position:absolute;top:2005px;font-size:15.7px;line-height:21px;white-space:nowrap;color:#555;left:333.00px;width:240px;text-align:center;transform-origin:50% 0;transform:scaleX(0.9146);"><span>6.1%</span></div>
<div style="position:absolute;top:2005px;font-size:15.7px;line-height:21px;white-space:nowrap;color:#555;left:449.00px;width:240px;text-align:center;transform-origin:50% 0;transform:scaleX(0.9167);"><span>$12</span></div>
<div style="position:absolute;top:2005px;font-size:15.7px;line-height:21px;white-space:nowrap;color:#555;left:566.00px;width:240px;text-align:center;transform-origin:50% 0;transform:scaleX(0.9146);"><span>5.1%</span></div>
<div style="position:absolute;top:2037px;font-size:12.7px;line-height:18px;white-space:nowrap;color:#111;font-weight:700;left:87px;transform-origin:0 0;transform:scaleX(1.0516);"><span>2024 Q1</span></div>
<div style="position:absolute;top:2035px;font-size:15.7px;line-height:21px;white-space:nowrap;color:#555;left:99.00px;width:240px;text-align:center;transform-origin:50% 0;transform:scaleX(0.9938);"><span>1,953,442</span></div>
<div style="position:absolute;top:2035px;font-size:15.7px;line-height:21px;white-space:nowrap;color:#555;left:216.00px;width:240px;text-align:center;transform-origin:50% 0;transform:scaleX(1.0450);"><span>5,044,044</span></div>
<div style="position:absolute;top:2035px;font-size:15.7px;line-height:21px;white-space:nowrap;color:#555;left:333.00px;width:240px;text-align:center;transform-origin:50% 0;transform:scaleX(1.0147);"><span>8.2%</span></div>
<div style="position:absolute;top:2035px;font-size:15.7px;line-height:21px;white-space:nowrap;color:#555;left:449.00px;width:240px;text-align:center;transform-origin:50% 0;transform:scaleX(0.7800);"><span>$11</span></div>
<div style="position:absolute;top:2035px;font-size:15.7px;line-height:21px;white-space:nowrap;color:#555;left:566.00px;width:240px;text-align:center;transform-origin:50% 0;transform:scaleX(1.0147);"><span>5.3%</span></div>
<div style="position:absolute;top:2069px;font-size:13px;line-height:19px;white-space:nowrap;color:#111;font-weight:700;left:99.00px;width:240px;text-align:center;transform-origin:50% 0;transform:scaleX(1.1097);"><span>Inventory SF</span></div>
<div style="position:absolute;top:2069px;font-size:13px;line-height:19px;white-space:nowrap;color:#111;font-weight:700;left:216.00px;width:240px;text-align:center;transform-origin:50% 0;transform:scaleX(1.1100);"><span>Net Delivered</span></div>
<div style="position:absolute;top:2086px;font-size:13px;line-height:19px;white-space:nowrap;color:#111;font-weight:700;left:216.00px;width:240px;text-align:center;transform-origin:50% 0;transform:scaleX(1.1150);"><span>SF</span></div>
<div style="position:absolute;top:2069px;font-size:13px;line-height:19px;white-space:nowrap;color:#111;font-weight:700;left:333.00px;width:240px;text-align:center;transform-origin:50% 0;transform:scaleX(1.1100);"><span>Net Delivered</span></div>
<div style="position:absolute;top:2086px;font-size:13px;line-height:19px;white-space:nowrap;color:#111;font-weight:700;left:333.00px;width:240px;text-align:center;transform-origin:50% 0;transform:scaleX(1.0752);"><span>SF 12 Months</span></div>
<div style="position:absolute;top:2069px;font-size:13px;line-height:19px;white-space:nowrap;color:#111;font-weight:700;left:449.00px;width:240px;text-align:center;transform-origin:50% 0;transform:scaleX(1.1091);"><span>Market Cap</span></div>
<div style="position:absolute;top:2086px;font-size:13px;line-height:19px;white-space:nowrap;color:#111;font-weight:700;left:449.00px;width:240px;text-align:center;transform-origin:50% 0;transform:scaleX(1.1150);"><span>Rate</span></div>
<div style="position:absolute;top:2069px;font-size:13px;line-height:19px;white-space:nowrap;color:#111;font-weight:700;left:566.00px;width:240px;text-align:center;transform-origin:50% 0;transform:scaleX(1.1089);"><span>Total Sales</span></div>
<div style="position:absolute;top:2086px;font-size:13px;line-height:19px;white-space:nowrap;color:#111;font-weight:700;left:566.00px;width:240px;text-align:center;transform-origin:50% 0;transform:scaleX(1.1150);"><span>Volume</span></div>
<div style="position:absolute;top:2122px;font-size:12.7px;line-height:18px;white-space:nowrap;color:#111;font-weight:700;left:87px;transform-origin:0 0;transform:scaleX(1.0516);"><span>2025 Q1</span></div>
<div style="position:absolute;top:2120px;font-size:15.7px;line-height:21px;white-space:nowrap;color:#555;left:99.00px;width:240px;text-align:center;transform-origin:50% 0;transform:scaleX(1.0110);"><span>287,418,204</span></div>
<div style="position:absolute;top:2120px;font-size:15.7px;line-height:21px;white-space:nowrap;color:#555;left:216.00px;width:240px;text-align:center;transform-origin:50% 0;transform:scaleX(1.0585);"><span>740,780</span></div>
<div style="position:absolute;top:2120px;font-size:15.7px;line-height:21px;white-space:nowrap;color:#555;left:333.00px;width:240px;text-align:center;transform-origin:50% 0;transform:scaleX(0.9938);"><span>3,440,201</span></div>
<div style="position:absolute;top:2120px;font-size:15.7px;line-height:21px;white-space:nowrap;color:#555;left:449.00px;width:240px;text-align:center;transform-origin:50% 0;transform:scaleX(1.0147);"><span>6.7%</span></div>
<div style="position:absolute;top:2120px;font-size:15.7px;line-height:21px;white-space:nowrap;color:#555;left:566.00px;width:240px;text-align:center;transform-origin:50% 0;transform:scaleX(1.0656);"><span>$354.56M</span></div>
<div style="position:absolute;top:2161px;font-size:12.7px;line-height:18px;white-space:nowrap;color:#111;font-weight:700;left:87px;transform-origin:0 0;transform:scaleX(1.0516);"><span>2024 Q1</span></div>
<div style="position:absolute;top:2159px;font-size:15.7px;line-height:21px;white-space:nowrap;color:#555;left:99.00px;width:240px;text-align:center;transform-origin:50% 0;transform:scaleX(1.0520);"><span>283,978,003</span></div>
<div style="position:absolute;top:2159px;font-size:15.7px;line-height:21px;white-space:nowrap;color:#555;left:216.00px;width:240px;text-align:center;transform-origin:50% 0;transform:scaleX(1.0450);"><span>4,464,576</span></div>
<div style="position:absolute;top:2159px;font-size:15.7px;line-height:21px;white-space:nowrap;color:#555;left:333.00px;width:240px;text-align:center;transform-origin:50% 0;transform:scaleX(0.9578);"><span>11,597,770</span></div>
<div style="position:absolute;top:2159px;font-size:15.7px;line-height:21px;white-space:nowrap;color:#555;left:449.00px;width:240px;text-align:center;transform-origin:50% 0;transform:scaleX(1.0147);"><span>6.7%</span></div>
<div style="position:absolute;top:2159px;font-size:15.7px;line-height:21px;white-space:nowrap;color:#555;left:566.00px;width:240px;text-align:center;transform-origin:50% 0;transform:scaleX(1.0143);"><span>$109.00M</span></div>
<div style="position:absolute;top:2201px;font-size:12px;line-height:18px;white-space:nowrap;color:#111;font-weight:700;left:81px;transform-origin:0 0;transform:scaleX(1.0724);"><span>Sources: NAR analysis on data from the U.S. Census Bureau, U.S. Bureau of Labor Statistics, Bureau of</span></div>
<div style="position:absolute;top:2217px;font-size:12px;line-height:18px;white-space:nowrap;color:#111;font-weight:700;left:81px;transform-origin:0 0;transform:scaleX(1.0636);"><span>Economic Analysis, CoStar</span></div>
<div style="position:absolute;top:2238px;font-size:13px;line-height:19px;white-space:nowrap;color:#3a3a3a;left:84.5px;transform-origin:0 0;transform:scaleX(1.1070);"><span>The National Association of REALTORS® is America’s largest trade association, representing more than</span></div>
<div style="position:absolute;top:2255px;font-size:13px;line-height:19px;white-space:nowrap;color:#3a3a3a;left:84.5px;transform-origin:0 0;transform:scaleX(1.1369);"><span>1.5 million members, including NAR’s institutes, societies and councils, involved in all aspects of the</span></div>
<div style="position:absolute;top:2272px;font-size:13px;line-height:19px;white-space:nowrap;color:#3a3a3a;left:84.5px;transform-origin:0 0;transform:scaleX(1.1145);"><span>real estate industry. NAR membership includes brokers, salespeople, property managers, appraisers,</span></div>
<div style="position:absolute;top:2289px;font-size:13px;line-height:19px;white-space:nowrap;color:#3a3a3a;left:84.5px;transform-origin:0 0;transform:scaleX(1.1177);"><span>counselors and others engaged in both residential and commercial real estate. The term REALTOR® is</span></div>
<div style="position:absolute;top:2306px;font-size:13px;line-height:19px;white-space:nowrap;color:#3a3a3a;left:84.5px;transform-origin:0 0;transform:scaleX(1.1346);"><span>a registered collective membership mark that identifies a real estate professional who is a member of</span></div>
<div style="position:absolute;top:2323px;font-size:13px;line-height:19px;white-space:nowrap;color:#3a3a3a;left:84.5px;transform-origin:0 0;transform:scaleX(1.1063);"><span>the National Association of REALTORS® and subscribes to its strict Code of Ethics. Working for</span></div>
<div style="position:absolute;top:2340px;font-size:13px;line-height:19px;white-space:nowrap;color:#3a3a3a;left:84.5px;transform-origin:0 0;transform:scaleX(1.1240);"><span>America's property owners, the National Association provides a facility for professional development,</span></div>
<div style="position:absolute;top:2357px;font-size:13px;line-height:19px;white-space:nowrap;color:#3a3a3a;left:84.5px;transform-origin:0 0;transform:scaleX(1.1465);"><span>research and exchange of information among its members and to the public and government for the</span></div>
<div style="position:absolute;top:2374px;font-size:13px;line-height:19px;white-space:nowrap;color:#3a3a3a;left:84.5px;transform-origin:0 0;transform:scaleX(1.1270);"><span>purpose of preserving the free enterprise system and the right to own real property. NATIONAL</span></div>
<div style="position:absolute;top:2391px;font-size:13px;line-height:19px;white-space:nowrap;color:#3a3a3a;left:84.5px;transform-origin:0 0;transform:scaleX(1.0490);"><span>ASSOCIATION OF REALTORS® RESEARCH GROUP The Mission of the NATIONAL ASSOCIATION OF</span></div>
<div style="position:absolute;top:2408px;font-size:13px;line-height:19px;white-space:nowrap;color:#3a3a3a;left:84.5px;transform-origin:0 0;transform:scaleX(1.1120);"><span>REALTORS® Research Group is to produce timely, data-driven market analysis and authoritative</span></div>
<div style="position:absolute;top:2425px;font-size:13px;line-height:19px;white-space:nowrap;color:#3a3a3a;left:84.5px;transform-origin:0 0;transform:scaleX(1.1308);"><span>business intelligence to serve members, and inform consumers, policymakers and the media in a</span></div>
<div style="position:absolute;top:2442px;font-size:13px;line-height:19px;white-space:nowrap;color:#3a3a3a;left:84.5px;transform-origin:0 0;transform:scaleX(1.1103);"><span>professional and accessible manner.</span></div>
<div style="position:absolute;top:2459px;font-size:13px;line-height:19px;white-space:nowrap;color:#3a3a3a;left:84.5px;transform-origin:0 0;transform:scaleX(1.1186);"><span>To find out about other products from NAR’s Research Group, visit</span></div>
<div style="position:absolute;top:2477px;font-size:12.5px;line-height:18px;white-space:nowrap;color:#d8092b;font-weight:700;left:88px;transform-origin:0 0;transform:scaleX(1.1513);text-decoration:underline;"><span>www.nar.realtor/research-and-statistics</span></div>
<div style="position:absolute;top:2505px;font-size:12px;line-height:18px;white-space:nowrap;color:#757575;font-weight:700;left:55.5px;transform-origin:0 0;transform:scaleX(1.0056);"><span>View on Tableau Public</span></div>
<div style="position:absolute;top:2505px;font-size:12px;line-height:18px;white-space:nowrap;color:#6b6b6b;font-weight:700;left:683.3px;transform-origin:0 0;transform:scaleX(1.0012);"><span>Share</span></div>
<div style="position:absolute;top:2451px;font-size:12px;line-height:18px;white-space:nowrap;color:#1a1a1a;font-weight:700;left:628.3px;transform-origin:0 0;transform:scaleX(1.1291);"><span>NATIONAL</span></div>
<div style="position:absolute;top:2464px;font-size:12px;line-height:18px;white-space:nowrap;color:#1a1a1a;font-weight:700;left:628.3px;transform-origin:0 0;transform:scaleX(1.1176);"><span>ASSOCIATION OF</span></div>
<div style="position:absolute;top:2478px;font-size:12px;line-height:18px;white-space:nowrap;color:#e0262e;font-weight:700;left:628.3px;transform-origin:0 0;transform:scaleX(1.0708);"><span>REALTORS</span></div>
<div style="position:absolute;top:2480px;font-size:6px;line-height:10px;white-space:nowrap;color:#e0262e;font-weight:700;left:698.6px;transform-origin:0 0;"><span>®</span></div>
<div style="position:absolute;left:250px;top:450.5px;width:105px;height:5.5px;background:#f4f4f4;"></div>
<div style="position:absolute;left:250px;top:456px;width:105px;height:8px;background:#fff;"></div>
<div style="position:absolute;left:600px;top:523.5px;width:110px;height:4.5px;background:#f4f4f4;"></div>
<div style="position:absolute;left:613px;top:528px;width:86px;height:5px;background:#b3b3b3;"></div>
<div style="position:absolute;left:600px;top:533px;width:110px;height:4px;background:#f4f4f4;"></div>
<svg style="position:absolute;left:586px;top:2453px" width="36" height="40" viewBox="0 0 36 40">
<rect x="0.4" y="1" width="34.4" height="38" fill="#e0262e"/>
<rect x="5.6" y="6" width="10.6" height="28.4" fill="#fff"/>
<path d="M19.2,6 H25.4 C29.6,6 30.6,10 30.6,13 C30.6,17.5 28.8,20.2 25.4,20.4 H19.2 Z" fill="#fff"/>
<path d="M19.2,22.8 V34.4 H30.6 Z" fill="#fff"/>
</svg><svg style="position:absolute;left:0;top:2500px" width="750" height="27" viewBox="0 2500 750 27" fill="none" stroke-linecap="round" stroke-linejoin="round">
<g stroke="#6b6b6b" stroke-width="1.1">
 <path d="M41.3,2510.2v7.2M37.7,2513.8h7.2"/>
 <path d="M41.3,2505.4v3M39.8,2506.9h3M41.3,2519.2v3M39.8,2520.7h3M34.4,2512.3v3M32.9,2513.8h3M48.2,2512.3v3M46.7,2513.8h3"/>
 <path d="M36.6,2507.4v3.6M34.8,2509.2h3.6M46,2507.4v3.6M44.2,2509.2h3.6M36.6,2516.6v3.6M34.8,2518.4h3.6M46,2516.6v3.6M44.2,2518.4h3.6"/>
</g>
<g stroke="#c4c4c4" stroke-width="1.2">
 <path d="M371,2509.2h9.5a5.6,5.6 0 0 1 0,11.2h-9.5M373.8,2506.4l-2.9,2.8 2.9,2.8"/>
 <path d="M425.5,2509.2h-9.5a5.6,5.6 0 0 0 0,11.2h9.5M422.7,2506.4l2.9,2.8 -2.9,2.8"/>
 <path d="M451.2,2509.2h9.5a5.6,5.6 0 0 1 0,11.2h-9.5M454,2506.4l-2.9,2.8 2.9,2.8M450.3,2506v5.5"/>
 <path d="M500,2509h-9.5a4.2,4.2 0 0 0 0,8.4h7a4.2,4.2 0 0 0 4.2,-4.2v-1.5M498,2506.6l2.4,2.4 -2.4,2.4"/>
 <path d="M545.5,2508v11.5" stroke-width="1"/>
</g>
<path d="M516,2512.4h7.4l-3.7,4.2z" fill="#c4c4c4"/>
<g stroke="#6b6b6b" stroke-width="1.2">
 <path d="M577,2516.2h-3.6a1.2,1.2 0 0 1 -1.2,-1.2v-7a1.2,1.2 0 0 1 1.2,-1.2h12a1.2,1.2 0 0 1 1.2,1.2v7a1.2,1.2 0 0 1 -1.2,1.2h-3.6M579.4,2512v9.6M576.6,2519l2.8,2.8 2.8,-2.8"/>
 <path d="M623.4,2510.4v-2.6a1.4,1.4 0 0 1 1.4,-1.4h2.6M634.2,2506.4h2.6a1.4,1.4 0 0 1 1.4,1.4v2.6M638.2,2517.2v2.6a1.4,1.4 0 0 1 -1.4,1.4h-2.6M627.4,2521.2h-2.6a1.4,1.4 0 0 1 -1.4,-1.4v-2.6"/>
 <rect x="626.6" y="2509.6" width="8.4" height="8.4" rx="0.8"/>
 <circle cx="672.6" cy="2508.8" r="2.3"/><circle cx="664" cy="2514" r="2.3"/><circle cx="672.6" cy="2519.4" r="2.3"/>
 <path d="M666,2512.8l4.6,-2.8M666,2515.2l4.6,2.9"/>
</g>
<path d="M592.8,2512.2h7.4l-3.7,4.2z" fill="#6b6b6b"/>
</svg>
</div></body></html>
